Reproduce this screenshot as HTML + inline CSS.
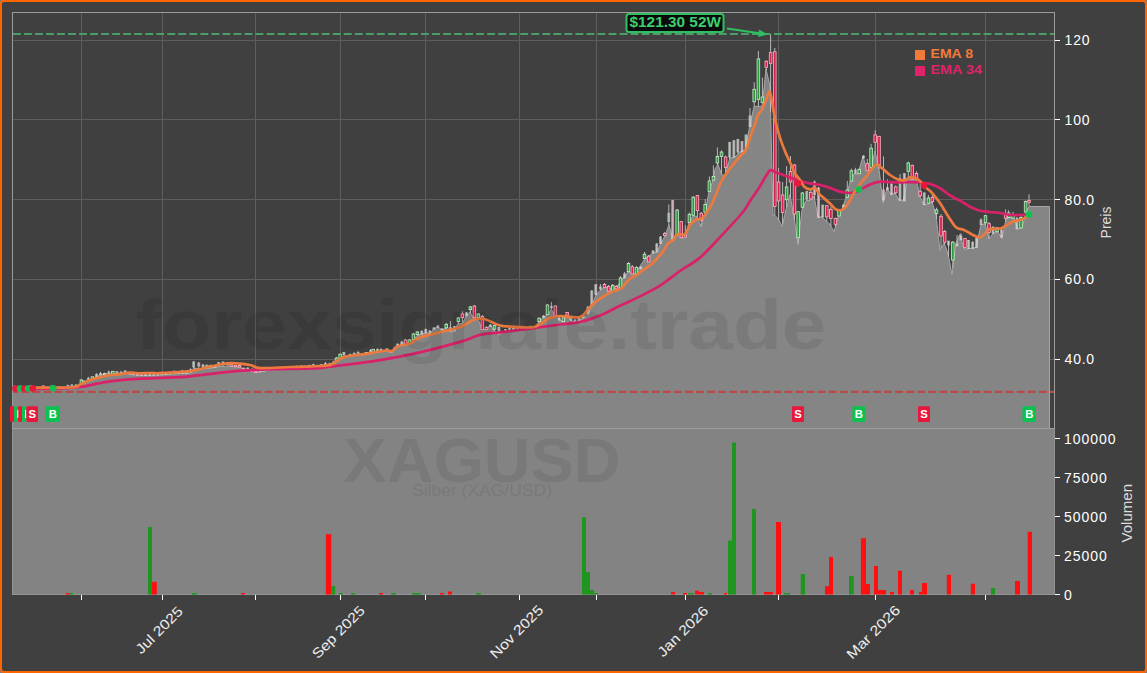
<!DOCTYPE html>
<html><head><meta charset="utf-8"><style>
html,body{margin:0;padding:0;background:#7f7f7f;}
#wrap{position:relative;width:1147px;height:673px;overflow:hidden;}
#frame{position:absolute;left:0;top:0;width:1143px;height:669px;border:2px solid #ff6600;border-radius:4px;background:#404040;}
</style></head><body><div id="wrap"><div id="frame"></div>
<svg width="1147" height="673" viewBox="0 0 1147 673" style="position:absolute;left:0;top:0;font-family:'Liberation Sans', sans-serif"><defs><clipPath id="mainclip"><rect x="12" y="12" width="1042" height="416"/></clipPath></defs><line x1="81.5" y1="12" x2="81.5" y2="428" stroke="#5e5e5e" stroke-width="1"/><line x1="162.5" y1="12" x2="162.5" y2="428" stroke="#5e5e5e" stroke-width="1"/><line x1="255.5" y1="12" x2="255.5" y2="428" stroke="#5e5e5e" stroke-width="1"/><line x1="340.5" y1="12" x2="340.5" y2="428" stroke="#5e5e5e" stroke-width="1"/><line x1="425.5" y1="12" x2="425.5" y2="428" stroke="#5e5e5e" stroke-width="1"/><line x1="519.5" y1="12" x2="519.5" y2="428" stroke="#5e5e5e" stroke-width="1"/><line x1="596.5" y1="12" x2="596.5" y2="428" stroke="#5e5e5e" stroke-width="1"/><line x1="685.5" y1="12" x2="685.5" y2="428" stroke="#5e5e5e" stroke-width="1"/><line x1="778.5" y1="12" x2="778.5" y2="428" stroke="#5e5e5e" stroke-width="1"/><line x1="875.5" y1="12" x2="875.5" y2="428" stroke="#5e5e5e" stroke-width="1"/><line x1="985.5" y1="12" x2="985.5" y2="428" stroke="#5e5e5e" stroke-width="1"/><line x1="12" y1="40.5" x2="1054" y2="40.5" stroke="#5e5e5e" stroke-width="1"/><line x1="12" y1="119.5" x2="1054" y2="119.5" stroke="#5e5e5e" stroke-width="1"/><line x1="12" y1="199.5" x2="1054" y2="199.5" stroke="#5e5e5e" stroke-width="1"/><line x1="12" y1="279.5" x2="1054" y2="279.5" stroke="#5e5e5e" stroke-width="1"/><line x1="12" y1="359.5" x2="1054" y2="359.5" stroke="#5e5e5e" stroke-width="1"/><g clip-path="url(#mainclip)"><polygon points="12.0,428.0 12.0,388.5 40.0,388.5 55.0,388.5 70.0,388.0 78.0,386.5 82.0,383.7 90.0,380.0 100.0,375.0 110.0,374.0 125.0,373.0 135.0,375.0 145.0,375.5 160.0,375.0 170.0,374.0 190.0,373.0 194.0,368.0 200.0,369.0 210.0,368.0 220.0,366.5 230.0,366.0 240.0,367.0 245.0,370.0 256.0,372.5 270.0,370.0 300.0,368.5 320.0,366.5 331.0,364.5 336.0,362.1 342.0,356.6 348.0,356.0 362.8,354.8 373.8,352.4 386.0,350.5 392.0,352.4 397.0,346.3 401.0,344.5 409.4,342.6 413.0,340.0 417.0,335.5 422.0,334.0 426.0,332.8 430.0,334.0 434.0,328.3 438.0,327.4 442.0,329.7 446.0,328.3 450.0,331.9 454.0,331.0 458.0,323.4 462.0,323.9 466.0,316.7 470.0,311.8 474.0,319.4 478.0,318.5 482.0,329.2 486.0,330.1 490.0,324.8 494.0,330.1 499.0,334.6 505.0,331.0 520.0,329.5 535.0,328.0 539.0,321.6 543.0,317.7 547.5,314.6 551.4,309.5 555.4,315.5 559.0,320.0 563.4,321.6 567.0,315.1 571.0,320.5 575.0,322.0 579.0,320.5 583.0,318.0 588.0,313.8 592.0,306.0 596.0,294.6 600.0,290.6 605.0,287.0 615.0,289.4 620.0,282.3 628.0,271.6 635.0,274.0 645.0,258.5 653.0,253.0 657.0,252.0 661.0,243.0 665.0,236.0 669.0,224.7 673.0,240.3 677.0,235.0 681.0,238.0 685.0,237.7 689.0,222.6 693.0,215.9 697.0,216.4 701.0,226.8 705.0,213.3 709.0,191.4 713.0,180.2 715.0,169.0 718.0,164.6 722.0,175.0 725.0,175.0 730.0,158.0 735.0,157.0 740.0,152.0 745.0,149.7 750.0,125.0 754.0,106.4 758.0,106.4 762.0,106.4 766.0,69.0 770.0,86.0 773.0,215.0 775.0,215.4 779.0,220.0 782.0,226.5 786.0,209.4 790.0,194.6 794.0,216.9 798.0,244.4 802.0,209.4 806.0,200.5 810.0,200.5 814.0,196.0 818.0,216.9 822.0,216.9 826.0,221.0 830.0,224.3 834.0,231.7 838.0,216.9 842.0,209.4 846.0,197.5 850.0,182.0 854.0,173.8 858.0,173.8 863.0,156.0 867.0,171.0 871.0,167.5 875.0,151.2 879.0,169.0 883.0,203.0 887.0,188.4 891.0,194.3 895.0,192.8 899.0,200.2 903.0,201.0 908.0,177.0 912.0,178.0 916.0,178.0 920.0,196.7 924.0,204.8 928.0,203.9 932.0,202.0 936.0,214.6 940.0,250.2 944.0,243.0 948.0,253.8 952.0,274.3 956.0,243.0 960.0,234.2 964.0,249.3 970.0,248.4 976.0,247.5 981.0,224.6 985.0,223.7 989.0,238.8 993.0,233.5 998.0,231.7 1002.0,238.8 1006.0,219.2 1010.0,217.4 1014.0,218.3 1018.0,229.0 1022.0,228.0 1026.0,212.0 1029.0,206.5 1049.5,206.5 1049.5,428.0" fill="#858585"/><polyline points="12.0,388.5 40.0,388.5 55.0,388.5 70.0,388.0 78.0,386.5 82.0,383.7 90.0,380.0 100.0,375.0 110.0,374.0 125.0,373.0 135.0,375.0 145.0,375.5 160.0,375.0 170.0,374.0 190.0,373.0 194.0,368.0 200.0,369.0 210.0,368.0 220.0,366.5 230.0,366.0 240.0,367.0 245.0,370.0 256.0,372.5 270.0,370.0 300.0,368.5 320.0,366.5 331.0,364.5 336.0,362.1 342.0,356.6 348.0,356.0 362.8,354.8 373.8,352.4 386.0,350.5 392.0,352.4 397.0,346.3 401.0,344.5 409.4,342.6 413.0,340.0 417.0,335.5 422.0,334.0 426.0,332.8 430.0,334.0 434.0,328.3 438.0,327.4 442.0,329.7 446.0,328.3 450.0,331.9 454.0,331.0 458.0,323.4 462.0,323.9 466.0,316.7 470.0,311.8 474.0,319.4 478.0,318.5 482.0,329.2 486.0,330.1 490.0,324.8 494.0,330.1 499.0,334.6 505.0,331.0 520.0,329.5 535.0,328.0 539.0,321.6 543.0,317.7 547.5,314.6 551.4,309.5 555.4,315.5 559.0,320.0 563.4,321.6 567.0,315.1 571.0,320.5 575.0,322.0 579.0,320.5 583.0,318.0 588.0,313.8 592.0,306.0 596.0,294.6 600.0,290.6 605.0,287.0 615.0,289.4 620.0,282.3 628.0,271.6 635.0,274.0 645.0,258.5 653.0,253.0 657.0,252.0 661.0,243.0 665.0,236.0 669.0,224.7 673.0,240.3 677.0,235.0 681.0,238.0 685.0,237.7 689.0,222.6 693.0,215.9 697.0,216.4 701.0,226.8 705.0,213.3 709.0,191.4 713.0,180.2 715.0,169.0 718.0,164.6 722.0,175.0 725.0,175.0 730.0,158.0 735.0,157.0 740.0,152.0 745.0,149.7 750.0,125.0 754.0,106.4 758.0,106.4 762.0,106.4 766.0,69.0 770.0,86.0 773.0,215.0 775.0,215.4 779.0,220.0 782.0,226.5 786.0,209.4 790.0,194.6 794.0,216.9 798.0,244.4 802.0,209.4 806.0,200.5 810.0,200.5 814.0,196.0 818.0,216.9 822.0,216.9 826.0,221.0 830.0,224.3 834.0,231.7 838.0,216.9 842.0,209.4 846.0,197.5 850.0,182.0 854.0,173.8 858.0,173.8 863.0,156.0 867.0,171.0 871.0,167.5 875.0,151.2 879.0,169.0 883.0,203.0 887.0,188.4 891.0,194.3 895.0,192.8 899.0,200.2 903.0,201.0 908.0,177.0 912.0,178.0 916.0,178.0 920.0,196.7 924.0,204.8 928.0,203.9 932.0,202.0 936.0,214.6 940.0,250.2 944.0,243.0 948.0,253.8 952.0,274.3 956.0,243.0 960.0,234.2 964.0,249.3 970.0,248.4 976.0,247.5 981.0,224.6 985.0,223.7 989.0,238.8 993.0,233.5 998.0,231.7 1002.0,238.8 1006.0,219.2 1010.0,217.4 1014.0,218.3 1018.0,229.0 1022.0,228.0 1026.0,212.0 1029.0,206.5 1049.5,206.5 1049.5,428" fill="none" stroke="#b0b0b0" stroke-width="1" opacity="0.85"/></g><line x1="81.4" y1="379.0" x2="81.4" y2="384.1" stroke="#c4c4c4" stroke-width="0.9"/><rect x="80.1" y="380.0" width="2.6" height="3.7" fill="#2a9a3c" stroke="#c8f0cc" stroke-width="0.8"/><line x1="193.7" y1="361.0" x2="193.7" y2="368.4" stroke="#c4c4c4" stroke-width="0.9"/><rect x="192.7" y="362.0" width="2.0" height="5.0" fill="#b8dcbc" stroke="#e4f6e6" stroke-width="0.8" opacity="0.6"/><line x1="198.8" y1="362.0" x2="198.8" y2="368.8" stroke="#c4c4c4" stroke-width="0.9"/><rect x="197.8" y="363.0" width="2.0" height="3.0" fill="#ecbccb" stroke="#fbe2ea" stroke-width="0.8" opacity="0.6"/><line x1="203.0" y1="364.0" x2="203.0" y2="368.7" stroke="#c4c4c4" stroke-width="0.9"/><rect x="202.0" y="365.0" width="2.0" height="2.0" fill="#d4d4d4" stroke="#ececec" stroke-width="0.8" opacity="0.6"/><line x1="218.5" y1="362.0" x2="218.5" y2="366.7" stroke="#c4c4c4" stroke-width="0.9"/><rect x="217.5" y="362.6" width="2.0" height="1.9" fill="#b8dcbc" stroke="#e4f6e6" stroke-width="0.8" opacity="0.6"/><line x1="223.0" y1="361.5" x2="223.0" y2="366.4" stroke="#c4c4c4" stroke-width="0.9"/><rect x="222.0" y="362.0" width="2.0" height="2.0" fill="#d4d4d4" stroke="#ececec" stroke-width="0.8" opacity="0.6"/><line x1="228.0" y1="362.0" x2="228.0" y2="366.1" stroke="#c4c4c4" stroke-width="0.9"/><rect x="227.0" y="362.5" width="2.0" height="2.0" fill="#d4d4d4" stroke="#ececec" stroke-width="0.8" opacity="0.6"/><line x1="336.5" y1="357.0" x2="336.5" y2="361.6" stroke="#c4c4c4" stroke-width="0.9"/><rect x="335.2" y="358.0" width="2.6" height="3.5" fill="#2a9a3c" stroke="#c8f0cc" stroke-width="0.8"/><line x1="340.2" y1="353.5" x2="340.2" y2="358.5" stroke="#c4c4c4" stroke-width="0.9"/><rect x="338.9" y="354.2" width="2.6" height="4.3" fill="#2a9a3c" stroke="#c8f0cc" stroke-width="0.8"/><line x1="343.9" y1="352.0" x2="343.9" y2="356.4" stroke="#c4c4c4" stroke-width="0.9"/><rect x="342.9" y="352.4" width="2.0" height="2.4" fill="#b8dcbc" stroke="#e4f6e6" stroke-width="0.8" opacity="0.6"/><line x1="373.2" y1="349.0" x2="373.2" y2="352.5" stroke="#c4c4c4" stroke-width="0.9"/><rect x="371.9" y="349.3" width="2.6" height="3.1" fill="#2a9a3c" stroke="#c8f0cc" stroke-width="0.8"/><line x1="377.4" y1="348.5" x2="377.4" y2="351.8" stroke="#c4c4c4" stroke-width="0.9"/><rect x="376.4" y="349.3" width="2.0" height="1.7" fill="#d4d4d4" stroke="#ececec" stroke-width="0.8" opacity="0.6"/><line x1="381.0" y1="348.5" x2="381.0" y2="351.3" stroke="#c4c4c4" stroke-width="0.9"/><rect x="380.0" y="349.3" width="2.0" height="1.7" fill="#d4d4d4" stroke="#ececec" stroke-width="0.8" opacity="0.6"/><line x1="397.6" y1="343.8" x2="397.6" y2="346.3" stroke="#c4c4c4" stroke-width="0.9"/><rect x="396.6" y="344.0" width="2.0" height="2.3" fill="#d4d4d4" stroke="#ececec" stroke-width="0.8" opacity="0.6"/><line x1="401.8" y1="341.0" x2="401.8" y2="344.3" stroke="#c4c4c4" stroke-width="0.9"/><rect x="400.8" y="342.0" width="2.0" height="2.0" fill="#d4d4d4" stroke="#ececec" stroke-width="0.8" opacity="0.6"/><line x1="405.5" y1="339.0" x2="405.5" y2="345.0" stroke="#c4c4c4" stroke-width="0.9"/><rect x="404.2" y="340.0" width="2.6" height="5.0" fill="#d8204e" stroke="#ffb4c4" stroke-width="0.8"/><line x1="409.4" y1="339.0" x2="409.4" y2="343.5" stroke="#c4c4c4" stroke-width="0.9"/><rect x="408.1" y="339.9" width="2.6" height="3.6" fill="#2a9a3c" stroke="#c8f0cc" stroke-width="0.8"/><line x1="413.4" y1="333.0" x2="413.4" y2="339.6" stroke="#c4c4c4" stroke-width="0.9"/><rect x="412.1" y="334.0" width="2.6" height="5.5" fill="#2a9a3c" stroke="#c8f0cc" stroke-width="0.8"/><line x1="417.4" y1="331.0" x2="417.4" y2="335.4" stroke="#c4c4c4" stroke-width="0.9"/><rect x="416.1" y="332.0" width="2.6" height="2.6" fill="#2a9a3c" stroke="#c8f0cc" stroke-width="0.8"/><line x1="421.8" y1="330.0" x2="421.8" y2="334.1" stroke="#c4c4c4" stroke-width="0.9"/><rect x="420.8" y="331.5" width="2.0" height="2.5" fill="#d4d4d4" stroke="#ececec" stroke-width="0.8" opacity="0.6"/><line x1="425.8" y1="328.5" x2="425.8" y2="332.9" stroke="#c4c4c4" stroke-width="0.9"/><rect x="424.8" y="329.5" width="2.0" height="3.3" fill="#d4d4d4" stroke="#ececec" stroke-width="0.8" opacity="0.6"/><line x1="429.9" y1="330.0" x2="429.9" y2="334.0" stroke="#c4c4c4" stroke-width="0.9"/><rect x="428.9" y="331.0" width="2.0" height="3.0" fill="#d4d4d4" stroke="#ececec" stroke-width="0.8" opacity="0.6"/><line x1="433.9" y1="327.0" x2="433.9" y2="329.0" stroke="#c4c4c4" stroke-width="0.9"/><rect x="432.9" y="328.0" width="2.0" height="1.2" fill="#d4d4d4" stroke="#ececec" stroke-width="0.8" opacity="0.6"/><line x1="437.9" y1="325.0" x2="437.9" y2="327.4" stroke="#c4c4c4" stroke-width="0.9"/><rect x="436.9" y="326.0" width="2.0" height="1.4" fill="#d4d4d4" stroke="#ececec" stroke-width="0.8" opacity="0.6"/><line x1="441.9" y1="328.0" x2="441.9" y2="330.0" stroke="#c4c4c4" stroke-width="0.9"/><rect x="440.9" y="329.0" width="2.0" height="1.2" fill="#d4d4d4" stroke="#ececec" stroke-width="0.8" opacity="0.6"/><line x1="446.3" y1="323.0" x2="446.3" y2="328.6" stroke="#c4c4c4" stroke-width="0.9"/><rect x="445.0" y="324.3" width="2.6" height="3.6" fill="#2a9a3c" stroke="#c8f0cc" stroke-width="0.8"/><line x1="450.4" y1="321.2" x2="450.4" y2="331.8" stroke="#c4c4c4" stroke-width="0.9"/><rect x="449.1" y="327.9" width="2.6" height="2.2" fill="#d8204e" stroke="#ffb4c4" stroke-width="0.8"/><line x1="454.4" y1="326.0" x2="454.4" y2="331.0" stroke="#c4c4c4" stroke-width="0.9"/><rect x="453.4" y="326.5" width="2.0" height="4.5" fill="#d4d4d4" stroke="#ececec" stroke-width="0.8" opacity="0.6"/><line x1="458.4" y1="317.0" x2="458.4" y2="323.4" stroke="#c4c4c4" stroke-width="0.9"/><rect x="457.1" y="318.0" width="2.6" height="3.6" fill="#2a9a3c" stroke="#c8f0cc" stroke-width="0.8"/><line x1="462.4" y1="311.4" x2="462.4" y2="323.2" stroke="#c4c4c4" stroke-width="0.9"/><rect x="461.1" y="314.0" width="2.6" height="3.6" fill="#d8204e" stroke="#ffb4c4" stroke-width="0.8"/><line x1="466.4" y1="312.0" x2="466.4" y2="316.2" stroke="#c4c4c4" stroke-width="0.9"/><rect x="465.4" y="313.0" width="2.0" height="3.0" fill="#d4d4d4" stroke="#ececec" stroke-width="0.8" opacity="0.6"/><line x1="470.4" y1="306.0" x2="470.4" y2="312.6" stroke="#c4c4c4" stroke-width="0.9"/><rect x="469.1" y="306.9" width="2.6" height="2.7" fill="#2a9a3c" stroke="#c8f0cc" stroke-width="0.8"/><line x1="474.4" y1="305.0" x2="474.4" y2="319.3" stroke="#c4c4c4" stroke-width="0.9"/><rect x="473.1" y="306.0" width="2.6" height="11.6" fill="#d8204e" stroke="#ffb4c4" stroke-width="0.8"/><line x1="478.4" y1="313.0" x2="478.4" y2="319.6" stroke="#c4c4c4" stroke-width="0.9"/><rect x="477.1" y="314.0" width="2.6" height="3.6" fill="#2a9a3c" stroke="#c8f0cc" stroke-width="0.8"/><line x1="482.4" y1="315.0" x2="482.4" y2="329.7" stroke="#c4c4c4" stroke-width="0.9"/><rect x="481.1" y="316.3" width="2.6" height="13.4" fill="#d8204e" stroke="#ffb4c4" stroke-width="0.8"/><line x1="486.5" y1="326.0" x2="486.5" y2="329.7" stroke="#c4c4c4" stroke-width="0.9"/><rect x="485.2" y="327.4" width="2.6" height="2.3" fill="#d8204e" stroke="#ffb4c4" stroke-width="0.8"/><line x1="490.5" y1="324.0" x2="490.5" y2="326.5" stroke="#c4c4c4" stroke-width="0.9"/><rect x="489.5" y="325.0" width="2.0" height="1.5" fill="#d4d4d4" stroke="#ececec" stroke-width="0.8" opacity="0.6"/><line x1="494.5" y1="325.0" x2="494.5" y2="330.6" stroke="#c4c4c4" stroke-width="0.9"/><rect x="493.2" y="325.6" width="2.6" height="3.6" fill="#2a9a3c" stroke="#c8f0cc" stroke-width="0.8"/><line x1="498.9" y1="327.0" x2="498.9" y2="334.5" stroke="#c4c4c4" stroke-width="0.9"/><rect x="497.9" y="327.5" width="2.0" height="6.5" fill="#ecbccb" stroke="#fbe2ea" stroke-width="0.8" opacity="0.6"/><line x1="539.2" y1="317.5" x2="539.2" y2="321.6" stroke="#c4c4c4" stroke-width="0.9"/><rect x="537.9" y="318.2" width="2.6" height="3.4" fill="#2a9a3c" stroke="#c8f0cc" stroke-width="0.8"/><line x1="543.6" y1="315.0" x2="543.6" y2="317.7" stroke="#c4c4c4" stroke-width="0.9"/><rect x="542.6" y="316.0" width="2.0" height="1.7" fill="#d4d4d4" stroke="#ececec" stroke-width="0.8" opacity="0.6"/><line x1="547.5" y1="304.0" x2="547.5" y2="314.6" stroke="#c4c4c4" stroke-width="0.9"/><rect x="546.2" y="305.0" width="2.6" height="9.6" fill="#2a9a3c" stroke="#c8f0cc" stroke-width="0.8"/><line x1="551.4" y1="302.0" x2="551.4" y2="309.5" stroke="#c4c4c4" stroke-width="0.9"/><rect x="550.4" y="306.3" width="2.0" height="1.5" fill="#d4d4d4" stroke="#ececec" stroke-width="0.8" opacity="0.6"/><line x1="555.4" y1="305.5" x2="555.4" y2="315.5" stroke="#c4c4c4" stroke-width="0.9"/><rect x="554.1" y="306.0" width="2.6" height="9.5" fill="#d8204e" stroke="#ffb4c4" stroke-width="0.8"/><line x1="559.3" y1="317.0" x2="559.3" y2="320.1" stroke="#c4c4c4" stroke-width="0.9"/><rect x="558.3" y="318.0" width="2.0" height="2.0" fill="#d4d4d4" stroke="#ececec" stroke-width="0.8" opacity="0.6"/><line x1="563.4" y1="316.7" x2="563.4" y2="321.6" stroke="#c4c4c4" stroke-width="0.9"/><rect x="562.1" y="317.7" width="2.6" height="3.9" fill="#2a9a3c" stroke="#c8f0cc" stroke-width="0.8"/><line x1="567.2" y1="312.0" x2="567.2" y2="315.4" stroke="#c4c4c4" stroke-width="0.9"/><rect x="565.9" y="312.5" width="2.6" height="2.6" fill="#d8204e" stroke="#ffb4c4" stroke-width="0.8"/><line x1="571.0" y1="318.0" x2="571.0" y2="320.5" stroke="#c4c4c4" stroke-width="0.9"/><rect x="570.0" y="318.5" width="2.0" height="2.0" fill="#d4d4d4" stroke="#ececec" stroke-width="0.8" opacity="0.6"/><line x1="575.0" y1="319.0" x2="575.0" y2="322.0" stroke="#c4c4c4" stroke-width="0.9"/><rect x="574.0" y="320.0" width="2.0" height="2.0" fill="#d4d4d4" stroke="#ececec" stroke-width="0.8" opacity="0.6"/><line x1="579.0" y1="318.0" x2="579.0" y2="320.5" stroke="#c4c4c4" stroke-width="0.9"/><rect x="578.0" y="318.5" width="2.0" height="2.0" fill="#d4d4d4" stroke="#ececec" stroke-width="0.8" opacity="0.6"/><line x1="583.0" y1="314.0" x2="583.0" y2="318.0" stroke="#c4c4c4" stroke-width="0.9"/><rect x="582.0" y="315.0" width="2.0" height="3.0" fill="#d4d4d4" stroke="#ececec" stroke-width="0.8" opacity="0.6"/><line x1="588.0" y1="306.8" x2="588.0" y2="313.8" stroke="#c4c4c4" stroke-width="0.9"/><rect x="587.0" y="306.8" width="2.0" height="7.0" fill="#d4d4d4" stroke="#ececec" stroke-width="0.8" opacity="0.6"/><line x1="591.8" y1="290.0" x2="591.8" y2="306.4" stroke="#c4c4c4" stroke-width="0.9"/><rect x="590.8" y="291.0" width="2.0" height="15.0" fill="#d4d4d4" stroke="#ececec" stroke-width="0.8" opacity="0.6"/><line x1="595.8" y1="284.0" x2="595.8" y2="295.2" stroke="#c4c4c4" stroke-width="0.9"/><rect x="594.8" y="284.8" width="2.0" height="9.8" fill="#d4d4d4" stroke="#ececec" stroke-width="0.8" opacity="0.6"/><line x1="600.4" y1="284.0" x2="600.4" y2="290.3" stroke="#c4c4c4" stroke-width="0.9"/><rect x="599.4" y="287.0" width="2.0" height="2.0" fill="#d4d4d4" stroke="#ececec" stroke-width="0.8" opacity="0.6"/><line x1="604.5" y1="283.0" x2="604.5" y2="287.7" stroke="#c4c4c4" stroke-width="0.9"/><rect x="603.2" y="284.4" width="2.6" height="3.3" fill="#d8204e" stroke="#ffb4c4" stroke-width="0.8"/><line x1="608.6" y1="285.0" x2="608.6" y2="291.3" stroke="#c4c4c4" stroke-width="0.9"/><rect x="607.3" y="286.4" width="2.6" height="4.9" fill="#d8204e" stroke="#ffb4c4" stroke-width="0.8"/><line x1="612.7" y1="284.0" x2="612.7" y2="291.3" stroke="#c4c4c4" stroke-width="0.9"/><rect x="611.4" y="285.3" width="2.6" height="6.0" fill="#2a9a3c" stroke="#c8f0cc" stroke-width="0.8"/><line x1="616.3" y1="285.0" x2="616.3" y2="288.9" stroke="#c4c4c4" stroke-width="0.9"/><rect x="615.0" y="286.4" width="2.6" height="2.5" fill="#d8204e" stroke="#ffb4c4" stroke-width="0.8"/><line x1="620.5" y1="276.0" x2="620.5" y2="288.0" stroke="#c4c4c4" stroke-width="0.9"/><rect x="619.2" y="278.0" width="2.6" height="10.0" fill="#2a9a3c" stroke="#c8f0cc" stroke-width="0.8"/><line x1="624.4" y1="272.0" x2="624.4" y2="278.0" stroke="#c4c4c4" stroke-width="0.9"/><rect x="623.4" y="274.0" width="2.0" height="4.0" fill="#d4d4d4" stroke="#ececec" stroke-width="0.8" opacity="0.6"/><line x1="628.5" y1="262.0" x2="628.5" y2="271.8" stroke="#c4c4c4" stroke-width="0.9"/><rect x="627.2" y="263.5" width="2.6" height="8.2" fill="#2a9a3c" stroke="#c8f0cc" stroke-width="0.8"/><line x1="632.3" y1="265.0" x2="632.3" y2="274.0" stroke="#c4c4c4" stroke-width="0.9"/><rect x="631.0" y="266.8" width="2.6" height="7.2" fill="#d8204e" stroke="#ffb4c4" stroke-width="0.8"/><line x1="636.4" y1="266.0" x2="636.4" y2="274.0" stroke="#c4c4c4" stroke-width="0.9"/><rect x="635.1" y="267.6" width="2.6" height="6.4" fill="#2a9a3c" stroke="#c8f0cc" stroke-width="0.8"/><line x1="640.8" y1="266.0" x2="640.8" y2="269.0" stroke="#c4c4c4" stroke-width="0.9"/><rect x="639.8" y="267.5" width="2.0" height="1.5" fill="#d4d4d4" stroke="#ececec" stroke-width="0.8" opacity="0.6"/><line x1="644.5" y1="252.0" x2="644.5" y2="259.3" stroke="#c4c4c4" stroke-width="0.9"/><rect x="643.2" y="254.2" width="2.6" height="4.4" fill="#2a9a3c" stroke="#c8f0cc" stroke-width="0.8"/><line x1="648.6" y1="255.0" x2="648.6" y2="261.9" stroke="#c4c4c4" stroke-width="0.9"/><rect x="647.3" y="256.2" width="2.6" height="5.7" fill="#d8204e" stroke="#ffb4c4" stroke-width="0.8"/><line x1="653.0" y1="250.0" x2="653.0" y2="253.0" stroke="#c4c4c4" stroke-width="0.9"/><rect x="652.0" y="251.0" width="2.0" height="2.0" fill="#d4d4d4" stroke="#ececec" stroke-width="0.8" opacity="0.6"/><line x1="656.8" y1="243.0" x2="656.8" y2="252.1" stroke="#c4c4c4" stroke-width="0.9"/><rect x="655.8" y="244.0" width="2.0" height="8.0" fill="#d4d4d4" stroke="#ececec" stroke-width="0.8" opacity="0.6"/><line x1="660.5" y1="236.0" x2="660.5" y2="244.1" stroke="#c4c4c4" stroke-width="0.9"/><rect x="659.5" y="237.0" width="2.0" height="6.4" fill="#d4d4d4" stroke="#ececec" stroke-width="0.8" opacity="0.6"/><line x1="664.7" y1="232.0" x2="664.7" y2="236.5" stroke="#c4c4c4" stroke-width="0.9"/><rect x="663.4" y="233.5" width="2.6" height="2.1" fill="#d8204e" stroke="#ffb4c4" stroke-width="0.8"/><line x1="668.8" y1="204.4" x2="668.8" y2="225.3" stroke="#c4c4c4" stroke-width="0.9"/><rect x="667.8" y="213.3" width="2.0" height="8.3" fill="#b8dcbc" stroke="#e4f6e6" stroke-width="0.8" opacity="0.6"/><line x1="672.7" y1="200.3" x2="672.7" y2="240.3" stroke="#c4c4c4" stroke-width="0.9"/><rect x="671.7" y="200.3" width="2.0" height="40.0" fill="#ecbccb" stroke="#fbe2ea" stroke-width="0.8" opacity="0.6"/><line x1="677.2" y1="209.0" x2="677.2" y2="235.2" stroke="#c4c4c4" stroke-width="0.9"/><rect x="675.9" y="210.0" width="2.6" height="25.0" fill="#2a9a3c" stroke="#c8f0cc" stroke-width="0.8"/><line x1="681.3" y1="221.0" x2="681.3" y2="238.0" stroke="#c4c4c4" stroke-width="0.9"/><rect x="680.0" y="221.6" width="2.6" height="16.1" fill="#d8204e" stroke="#ffb4c4" stroke-width="0.8"/><line x1="685.3" y1="225.2" x2="685.3" y2="237.0" stroke="#c4c4c4" stroke-width="0.9"/><rect x="684.0" y="235.0" width="2.6" height="2.0" fill="#d8204e" stroke="#ffb4c4" stroke-width="0.8"/><line x1="689.4" y1="212.7" x2="689.4" y2="222.6" stroke="#c4c4c4" stroke-width="0.9"/><rect x="688.1" y="214.3" width="2.6" height="8.3" fill="#2a9a3c" stroke="#c8f0cc" stroke-width="0.8"/><line x1="693.3" y1="196.0" x2="693.3" y2="215.9" stroke="#c4c4c4" stroke-width="0.9"/><rect x="692.0" y="197.2" width="2.6" height="18.1" fill="#2a9a3c" stroke="#c8f0cc" stroke-width="0.8"/><line x1="697.4" y1="195.0" x2="697.4" y2="217.4" stroke="#c4c4c4" stroke-width="0.9"/><rect x="696.1" y="195.6" width="2.6" height="15.1" fill="#d8204e" stroke="#ffb4c4" stroke-width="0.8"/><line x1="701.3" y1="212.0" x2="701.3" y2="225.8" stroke="#c4c4c4" stroke-width="0.9"/><rect x="700.0" y="213.3" width="2.6" height="7.2" fill="#d8204e" stroke="#ffb4c4" stroke-width="0.8"/><line x1="705.2" y1="199.2" x2="705.2" y2="212.2" stroke="#c4c4c4" stroke-width="0.9"/><rect x="703.9" y="204.4" width="2.6" height="7.8" fill="#2a9a3c" stroke="#c8f0cc" stroke-width="0.8"/><line x1="709.4" y1="176.5" x2="709.4" y2="191.4" stroke="#c4c4c4" stroke-width="0.9"/><rect x="708.1" y="181.0" width="2.6" height="10.4" fill="#2a9a3c" stroke="#c8f0cc" stroke-width="0.8"/><line x1="713.4" y1="165.3" x2="713.4" y2="180.2" stroke="#c4c4c4" stroke-width="0.9"/><rect x="712.1" y="176.5" width="2.6" height="3.7" fill="#2a9a3c" stroke="#c8f0cc" stroke-width="0.8"/><line x1="717.4" y1="147.5" x2="717.4" y2="165.5" stroke="#c4c4c4" stroke-width="0.9"/><rect x="716.1" y="156.4" width="2.6" height="6.6" fill="#2a9a3c" stroke="#c8f0cc" stroke-width="0.8"/><line x1="721.5" y1="150.5" x2="721.5" y2="173.7" stroke="#c4c4c4" stroke-width="0.9"/><rect x="720.2" y="152.0" width="2.6" height="4.4" fill="#2a9a3c" stroke="#c8f0cc" stroke-width="0.8"/><line x1="725.6" y1="155.7" x2="725.6" y2="173.0" stroke="#c4c4c4" stroke-width="0.9"/><rect x="724.3" y="157.0" width="2.6" height="10.5" fill="#d8204e" stroke="#ffb4c4" stroke-width="0.8"/><line x1="729.7" y1="142.3" x2="729.7" y2="159.0" stroke="#c4c4c4" stroke-width="0.9"/><rect x="728.7" y="142.3" width="2.0" height="14.7" fill="#b8dcbc" stroke="#e4f6e6" stroke-width="0.8" opacity="0.6"/><line x1="733.9" y1="140.0" x2="733.9" y2="157.2" stroke="#c4c4c4" stroke-width="0.9"/><rect x="732.9" y="140.8" width="2.0" height="16.2" fill="#d4d4d4" stroke="#ececec" stroke-width="0.8" opacity="0.6"/><line x1="737.9" y1="139.3" x2="737.9" y2="154.1" stroke="#c4c4c4" stroke-width="0.9"/><rect x="736.9" y="139.3" width="2.0" height="12.7" fill="#d4d4d4" stroke="#ececec" stroke-width="0.8" opacity="0.6"/><line x1="742.0" y1="141.5" x2="742.0" y2="152.0" stroke="#c4c4c4" stroke-width="0.9"/><rect x="741.0" y="141.5" width="2.0" height="10.5" fill="#ecbccb" stroke="#fbe2ea" stroke-width="0.8" opacity="0.6"/><line x1="746.0" y1="134.9" x2="746.0" y2="148.0" stroke="#c4c4c4" stroke-width="0.9"/><rect x="745.0" y="134.9" width="2.0" height="13.1" fill="#b8dcbc" stroke="#e4f6e6" stroke-width="0.8" opacity="0.6"/><line x1="750.0" y1="108.0" x2="750.0" y2="126.7" stroke="#c4c4c4" stroke-width="0.9"/><rect x="749.0" y="115.8" width="2.0" height="10.9" fill="#d4d4d4" stroke="#ececec" stroke-width="0.8" opacity="0.6"/><line x1="754.2" y1="82.3" x2="754.2" y2="106.4" stroke="#c4c4c4" stroke-width="0.9"/><rect x="752.9" y="89.3" width="2.6" height="12.5" fill="#2a9a3c" stroke="#c8f0cc" stroke-width="0.8"/><line x1="758.4" y1="51.0" x2="758.4" y2="106.4" stroke="#c4c4c4" stroke-width="0.9"/><rect x="757.1" y="58.9" width="2.6" height="40.5" fill="#2a9a3c" stroke="#c8f0cc" stroke-width="0.8"/><line x1="762.4" y1="77.6" x2="762.4" y2="102.7" stroke="#c4c4c4" stroke-width="0.9"/><rect x="761.1" y="97.0" width="2.6" height="5.5" fill="#2a9a3c" stroke="#c8f0cc" stroke-width="0.8"/><line x1="766.3" y1="60.4" x2="766.3" y2="70.3" stroke="#c4c4c4" stroke-width="0.9"/><rect x="765.0" y="61.2" width="2.6" height="6.2" fill="#d8204e" stroke="#ffb4c4" stroke-width="0.8"/><line x1="770.6" y1="34.0" x2="770.6" y2="111.8" stroke="#c4c4c4" stroke-width="0.9"/><rect x="769.3" y="52.6" width="2.6" height="10.9" fill="#d8204e" stroke="#ffb4c4" stroke-width="0.8"/><line x1="774.8" y1="48.0" x2="774.8" y2="215.4" stroke="#c4c4c4" stroke-width="0.9"/><rect x="773.5" y="51.8" width="2.6" height="154.7" fill="#d8204e" stroke="#ffb4c4" stroke-width="0.8"/><line x1="778.6" y1="167.8" x2="778.6" y2="219.5" stroke="#c4c4c4" stroke-width="0.9"/><rect x="777.3" y="182.0" width="2.6" height="19.0" fill="#d8204e" stroke="#ffb4c4" stroke-width="0.8"/><line x1="782.6" y1="182.0" x2="782.6" y2="223.9" stroke="#c4c4c4" stroke-width="0.9"/><rect x="781.3" y="195.0" width="2.6" height="17.4" fill="#d8204e" stroke="#ffb4c4" stroke-width="0.8"/><line x1="786.6" y1="166.0" x2="786.6" y2="207.2" stroke="#c4c4c4" stroke-width="0.9"/><rect x="785.3" y="187.0" width="2.6" height="12.8" fill="#2a9a3c" stroke="#c8f0cc" stroke-width="0.8"/><line x1="790.5" y1="156.0" x2="790.5" y2="197.4" stroke="#c4c4c4" stroke-width="0.9"/><rect x="789.2" y="171.5" width="2.6" height="10.5" fill="#d8204e" stroke="#ffb4c4" stroke-width="0.8"/><line x1="794.5" y1="164.0" x2="794.5" y2="220.3" stroke="#c4c4c4" stroke-width="0.9"/><rect x="793.2" y="164.9" width="2.6" height="49.1" fill="#d8204e" stroke="#ffb4c4" stroke-width="0.8"/><line x1="798.2" y1="211.0" x2="798.2" y2="242.6" stroke="#c4c4c4" stroke-width="0.9"/><rect x="796.9" y="211.7" width="2.6" height="26.0" fill="#2a9a3c" stroke="#c8f0cc" stroke-width="0.8"/><line x1="802.4" y1="192.0" x2="802.4" y2="208.5" stroke="#c4c4c4" stroke-width="0.9"/><rect x="801.1" y="193.0" width="2.6" height="14.2" fill="#2a9a3c" stroke="#c8f0cc" stroke-width="0.8"/><line x1="806.8" y1="190.8" x2="806.8" y2="200.5" stroke="#c4c4c4" stroke-width="0.9"/><rect x="805.8" y="191.6" width="2.0" height="7.4" fill="#b8dcbc" stroke="#e4f6e6" stroke-width="0.8" opacity="0.6"/><line x1="810.9" y1="190.0" x2="810.9" y2="199.5" stroke="#c4c4c4" stroke-width="0.9"/><rect x="809.6" y="192.3" width="2.6" height="6.7" fill="#d8204e" stroke="#ffb4c4" stroke-width="0.8"/><line x1="814.6" y1="180.5" x2="814.6" y2="199.1" stroke="#c4c4c4" stroke-width="0.9"/><rect x="813.6" y="182.0" width="2.0" height="12.6" fill="#ecbccb" stroke="#fbe2ea" stroke-width="0.8" opacity="0.6"/><line x1="818.6" y1="187.0" x2="818.6" y2="217.6" stroke="#c4c4c4" stroke-width="0.9"/><rect x="817.6" y="187.9" width="2.0" height="29.7" fill="#ecbccb" stroke="#fbe2ea" stroke-width="0.8" opacity="0.6"/><line x1="822.7" y1="205.0" x2="822.7" y2="217.6" stroke="#c4c4c4" stroke-width="0.9"/><rect x="821.7" y="205.0" width="2.0" height="11.9" fill="#b8dcbc" stroke="#e4f6e6" stroke-width="0.8" opacity="0.6"/><line x1="826.8" y1="205.0" x2="826.8" y2="221.7" stroke="#c4c4c4" stroke-width="0.9"/><rect x="825.5" y="205.7" width="2.6" height="11.2" fill="#d8204e" stroke="#ffb4c4" stroke-width="0.8"/><line x1="830.9" y1="206.5" x2="830.9" y2="226.0" stroke="#c4c4c4" stroke-width="0.9"/><rect x="829.6" y="209.4" width="2.6" height="9.0" fill="#d8204e" stroke="#ffb4c4" stroke-width="0.8"/><line x1="835.4" y1="217.6" x2="835.4" y2="226.5" stroke="#c4c4c4" stroke-width="0.9"/><rect x="834.1" y="218.4" width="2.6" height="5.9" fill="#d8204e" stroke="#ffb4c4" stroke-width="0.8"/><line x1="839.0" y1="209.4" x2="839.0" y2="216.0" stroke="#c4c4c4" stroke-width="0.9"/><rect x="837.7" y="210.2" width="2.6" height="5.8" fill="#2a9a3c" stroke="#c8f0cc" stroke-width="0.8"/><line x1="843.5" y1="205.0" x2="843.5" y2="207.0" stroke="#c4c4c4" stroke-width="0.9"/><rect x="842.5" y="205.0" width="2.0" height="2.0" fill="#d4d4d4" stroke="#ececec" stroke-width="0.8" opacity="0.6"/><line x1="847.3" y1="181.0" x2="847.3" y2="197.5" stroke="#c4c4c4" stroke-width="0.9"/><rect x="846.0" y="190.0" width="2.6" height="7.5" fill="#2a9a3c" stroke="#c8f0cc" stroke-width="0.8"/><line x1="851.4" y1="168.6" x2="851.4" y2="181.2" stroke="#c4c4c4" stroke-width="0.9"/><rect x="850.1" y="170.8" width="2.6" height="10.4" fill="#2a9a3c" stroke="#c8f0cc" stroke-width="0.8"/><line x1="855.4" y1="167.8" x2="855.4" y2="173.8" stroke="#c4c4c4" stroke-width="0.9"/><rect x="854.4" y="170.0" width="2.0" height="3.0" fill="#d4d4d4" stroke="#ececec" stroke-width="0.8" opacity="0.6"/><line x1="859.2" y1="168.6" x2="859.2" y2="173.8" stroke="#c4c4c4" stroke-width="0.9"/><rect x="857.9" y="169.3" width="2.6" height="4.5" fill="#2a9a3c" stroke="#c8f0cc" stroke-width="0.8"/><line x1="863.6" y1="155.2" x2="863.6" y2="158.3" stroke="#c4c4c4" stroke-width="0.9"/><rect x="862.6" y="156.0" width="2.0" height="2.0" fill="#d4d4d4" stroke="#ececec" stroke-width="0.8" opacity="0.6"/><line x1="867.3" y1="159.0" x2="867.3" y2="170.8" stroke="#c4c4c4" stroke-width="0.9"/><rect x="866.0" y="163.4" width="2.6" height="7.4" fill="#d8204e" stroke="#ffb4c4" stroke-width="0.8"/><line x1="871.1" y1="143.8" x2="871.1" y2="167.5" stroke="#c4c4c4" stroke-width="0.9"/><rect x="869.8" y="148.2" width="2.6" height="19.3" fill="#2a9a3c" stroke="#c8f0cc" stroke-width="0.8"/><line x1="875.2" y1="130.4" x2="875.2" y2="152.1" stroke="#c4c4c4" stroke-width="0.9"/><rect x="873.9" y="134.9" width="2.6" height="7.4" fill="#d8204e" stroke="#ffb4c4" stroke-width="0.8"/><line x1="879.0" y1="136.0" x2="879.0" y2="169.0" stroke="#c4c4c4" stroke-width="0.9"/><rect x="877.7" y="136.3" width="2.6" height="28.3" fill="#d8204e" stroke="#ffb4c4" stroke-width="0.8"/><line x1="883.5" y1="156.4" x2="883.5" y2="201.2" stroke="#c4c4c4" stroke-width="0.9"/><rect x="882.5" y="190.0" width="2.0" height="10.0" fill="#ecbccb" stroke="#fbe2ea" stroke-width="0.8" opacity="0.6"/><line x1="887.5" y1="179.4" x2="887.5" y2="189.8" stroke="#c4c4c4" stroke-width="0.9"/><rect x="886.5" y="187.6" width="2.0" height="2.2" fill="#ecbccb" stroke="#fbe2ea" stroke-width="0.8" opacity="0.6"/><line x1="891.5" y1="182.4" x2="891.5" y2="194.3" stroke="#c4c4c4" stroke-width="0.9"/><rect x="890.5" y="184.0" width="2.0" height="10.3" fill="#ecbccb" stroke="#fbe2ea" stroke-width="0.8" opacity="0.6"/><line x1="895.7" y1="185.4" x2="895.7" y2="194.1" stroke="#c4c4c4" stroke-width="0.9"/><rect x="894.4" y="186.9" width="2.6" height="5.9" fill="#d8204e" stroke="#ffb4c4" stroke-width="0.8"/><line x1="900.0" y1="174.2" x2="900.0" y2="200.4" stroke="#c4c4c4" stroke-width="0.9"/><rect x="899.0" y="178.7" width="2.0" height="21.5" fill="#d4d4d4" stroke="#ececec" stroke-width="0.8" opacity="0.6"/><line x1="904.3" y1="173.5" x2="904.3" y2="201.0" stroke="#c4c4c4" stroke-width="0.9"/><rect x="903.3" y="173.5" width="2.0" height="27.5" fill="#d4d4d4" stroke="#ececec" stroke-width="0.8" opacity="0.6"/><line x1="908.3" y1="161.6" x2="908.3" y2="177.1" stroke="#c4c4c4" stroke-width="0.9"/><rect x="907.0" y="163.0" width="2.6" height="8.3" fill="#2a9a3c" stroke="#c8f0cc" stroke-width="0.8"/><line x1="912.3" y1="164.6" x2="912.3" y2="179.4" stroke="#c4c4c4" stroke-width="0.9"/><rect x="911.0" y="165.3" width="2.6" height="14.1" fill="#d8204e" stroke="#ffb4c4" stroke-width="0.8"/><line x1="916.5" y1="171.3" x2="916.5" y2="180.3" stroke="#c4c4c4" stroke-width="0.9"/><rect x="915.2" y="173.5" width="2.6" height="5.9" fill="#d8204e" stroke="#ffb4c4" stroke-width="0.8"/><line x1="920.2" y1="184.0" x2="920.2" y2="197.1" stroke="#c4c4c4" stroke-width="0.9"/><rect x="918.9" y="191.3" width="2.6" height="4.5" fill="#d8204e" stroke="#ffb4c4" stroke-width="0.8"/><line x1="924.2" y1="192.8" x2="924.2" y2="204.8" stroke="#c4c4c4" stroke-width="0.9"/><rect x="923.2" y="192.8" width="2.0" height="11.9" fill="#d4d4d4" stroke="#ececec" stroke-width="0.8" opacity="0.6"/><line x1="928.4" y1="195.0" x2="928.4" y2="203.7" stroke="#c4c4c4" stroke-width="0.9"/><rect x="927.1" y="198.0" width="2.6" height="5.2" fill="#2a9a3c" stroke="#c8f0cc" stroke-width="0.8"/><line x1="932.4" y1="192.8" x2="932.4" y2="203.3" stroke="#c4c4c4" stroke-width="0.9"/><rect x="931.1" y="197.3" width="2.6" height="4.4" fill="#d8204e" stroke="#ffb4c4" stroke-width="0.8"/><line x1="936.5" y1="207.7" x2="936.5" y2="219.0" stroke="#c4c4c4" stroke-width="0.9"/><rect x="935.2" y="209.9" width="2.6" height="3.7" fill="#2a9a3c" stroke="#c8f0cc" stroke-width="0.8"/><line x1="941.0" y1="214.0" x2="941.0" y2="248.4" stroke="#c4c4c4" stroke-width="0.9"/><rect x="939.7" y="216.3" width="2.6" height="19.7" fill="#d8204e" stroke="#ffb4c4" stroke-width="0.8"/><line x1="944.6" y1="230.0" x2="944.6" y2="244.6" stroke="#c4c4c4" stroke-width="0.9"/><rect x="943.3" y="231.5" width="2.6" height="10.7" fill="#d8204e" stroke="#ffb4c4" stroke-width="0.8"/><line x1="948.5" y1="241.3" x2="948.5" y2="256.4" stroke="#c4c4c4" stroke-width="0.9"/><rect x="947.5" y="241.0" width="2.0" height="4.0" fill="#d4d4d4" stroke="#ececec" stroke-width="0.8" opacity="0.6"/><line x1="952.8" y1="241.0" x2="952.8" y2="268.0" stroke="#c4c4c4" stroke-width="0.9"/><rect x="951.5" y="242.2" width="2.6" height="17.8" fill="#2a9a3c" stroke="#c8f0cc" stroke-width="0.8"/><line x1="957.0" y1="235.0" x2="957.0" y2="246.0" stroke="#c4c4c4" stroke-width="0.9"/><rect x="956.0" y="244.0" width="2.0" height="2.0" fill="#d4d4d4" stroke="#ececec" stroke-width="0.8" opacity="0.6"/><line x1="961.0" y1="233.3" x2="961.0" y2="240.0" stroke="#c4c4c4" stroke-width="0.9"/><rect x="960.0" y="236.0" width="2.0" height="4.0" fill="#d4d4d4" stroke="#ececec" stroke-width="0.8" opacity="0.6"/><line x1="965.0" y1="238.0" x2="965.0" y2="249.2" stroke="#c4c4c4" stroke-width="0.9"/><rect x="963.7" y="238.6" width="2.6" height="8.9" fill="#d8204e" stroke="#ffb4c4" stroke-width="0.8"/><line x1="968.6" y1="240.0" x2="968.6" y2="248.6" stroke="#c4c4c4" stroke-width="0.9"/><rect x="967.6" y="240.4" width="2.0" height="8.2" fill="#b8dcbc" stroke="#e4f6e6" stroke-width="0.8" opacity="0.6"/><line x1="972.7" y1="241.0" x2="972.7" y2="248.4" stroke="#c4c4c4" stroke-width="0.9"/><rect x="971.7" y="242.4" width="2.0" height="6.0" fill="#d4d4d4" stroke="#ececec" stroke-width="0.8" opacity="0.6"/><line x1="976.6" y1="237.7" x2="976.6" y2="247.5" stroke="#c4c4c4" stroke-width="0.9"/><rect x="975.6" y="238.0" width="2.0" height="9.5" fill="#d4d4d4" stroke="#ececec" stroke-width="0.8" opacity="0.6"/><line x1="981.0" y1="218.3" x2="981.0" y2="224.6" stroke="#c4c4c4" stroke-width="0.9"/><rect x="980.0" y="220.0" width="2.0" height="4.6" fill="#d4d4d4" stroke="#ececec" stroke-width="0.8" opacity="0.6"/><line x1="985.5" y1="215.0" x2="985.5" y2="225.6" stroke="#c4c4c4" stroke-width="0.9"/><rect x="984.2" y="215.7" width="2.6" height="7.1" fill="#2a9a3c" stroke="#c8f0cc" stroke-width="0.8"/><line x1="989.0" y1="222.0" x2="989.0" y2="238.8" stroke="#c4c4c4" stroke-width="0.9"/><rect x="987.7" y="223.7" width="2.6" height="8.9" fill="#d8204e" stroke="#ffb4c4" stroke-width="0.8"/><line x1="993.0" y1="226.0" x2="993.0" y2="233.5" stroke="#c4c4c4" stroke-width="0.9"/><rect x="992.0" y="227.2" width="2.0" height="6.3" fill="#d4d4d4" stroke="#ececec" stroke-width="0.8" opacity="0.6"/><line x1="997.0" y1="227.0" x2="997.0" y2="232.1" stroke="#c4c4c4" stroke-width="0.9"/><rect x="995.7" y="228.0" width="2.6" height="3.7" fill="#2a9a3c" stroke="#c8f0cc" stroke-width="0.8"/><line x1="1001.5" y1="229.0" x2="1001.5" y2="237.9" stroke="#c4c4c4" stroke-width="0.9"/><rect x="1000.5" y="230.0" width="2.0" height="7.0" fill="#ecbccb" stroke="#fbe2ea" stroke-width="0.8" opacity="0.6"/><line x1="1005.6" y1="209.4" x2="1005.6" y2="221.2" stroke="#c4c4c4" stroke-width="0.9"/><rect x="1004.3" y="214.8" width="2.6" height="3.5" fill="#d8204e" stroke="#ffb4c4" stroke-width="0.8"/><line x1="1008.6" y1="210.3" x2="1008.6" y2="218.0" stroke="#c4c4c4" stroke-width="0.9"/><rect x="1007.3" y="213.0" width="2.6" height="4.4" fill="#2a9a3c" stroke="#c8f0cc" stroke-width="0.8"/><line x1="1013.0" y1="212.0" x2="1013.0" y2="218.3" stroke="#c4c4c4" stroke-width="0.9"/><rect x="1011.7" y="214.8" width="2.6" height="3.5" fill="#2a9a3c" stroke="#c8f0cc" stroke-width="0.8"/><line x1="1017.0" y1="217.0" x2="1017.0" y2="229.0" stroke="#c4c4c4" stroke-width="0.9"/><rect x="1016.0" y="218.3" width="2.0" height="10.7" fill="#b8dcbc" stroke="#e4f6e6" stroke-width="0.8" opacity="0.6"/><line x1="1021.0" y1="216.0" x2="1021.0" y2="228.2" stroke="#c4c4c4" stroke-width="0.9"/><rect x="1019.7" y="217.4" width="2.6" height="10.6" fill="#2a9a3c" stroke="#c8f0cc" stroke-width="0.8"/><line x1="1025.6" y1="200.5" x2="1025.6" y2="213.6" stroke="#c4c4c4" stroke-width="0.9"/><rect x="1024.3" y="201.4" width="2.6" height="10.6" fill="#2a9a3c" stroke="#c8f0cc" stroke-width="0.8"/><line x1="1029.0" y1="194.3" x2="1029.0" y2="206.5" stroke="#c4c4c4" stroke-width="0.9"/><rect x="1027.7" y="200.5" width="2.6" height="1.8" fill="#d8204e" stroke="#ffb4c4" stroke-width="0.8"/><line x1="14.7" y1="385.0" x2="14.7" y2="388.5" stroke="#c4c4c4" stroke-width="0.9"/><rect x="13.7" y="386.5" width="2.0" height="2.0" fill="#ecbccb" stroke="#fbe2ea" stroke-width="0.8" opacity="0.6"/><line x1="18.8" y1="387.5" x2="18.8" y2="388.5" stroke="#c4c4c4" stroke-width="0.9"/><rect x="17.5" y="387.5" width="2.6" height="1.2" fill="#d8204e" stroke="#ffb4c4" stroke-width="0.8"/><line x1="22.9" y1="386.0" x2="22.9" y2="388.5" stroke="#c4c4c4" stroke-width="0.9"/><rect x="21.6" y="386.5" width="2.6" height="2.0" fill="#d8204e" stroke="#ffb4c4" stroke-width="0.8"/><line x1="27.0" y1="386.0" x2="27.0" y2="388.5" stroke="#c4c4c4" stroke-width="0.9"/><rect x="25.7" y="387.5" width="2.6" height="1.2" fill="#d8204e" stroke="#ffb4c4" stroke-width="0.8"/><line x1="31.0" y1="385.5" x2="31.0" y2="388.5" stroke="#c4c4c4" stroke-width="0.9"/><rect x="29.7" y="386.0" width="2.6" height="2.5" fill="#d8204e" stroke="#ffb4c4" stroke-width="0.8"/><line x1="35.1" y1="387.5" x2="35.1" y2="388.5" stroke="#c4c4c4" stroke-width="0.9"/><rect x="34.1" y="387.5" width="2.0" height="1.2" fill="#d4d4d4" stroke="#ececec" stroke-width="0.8" opacity="0.6"/><line x1="39.2" y1="387.5" x2="39.2" y2="388.5" stroke="#c4c4c4" stroke-width="0.9"/><rect x="38.2" y="387.5" width="2.0" height="1.2" fill="#ecbccb" stroke="#fbe2ea" stroke-width="0.8" opacity="0.6"/><line x1="43.3" y1="385.5" x2="43.3" y2="388.5" stroke="#c4c4c4" stroke-width="0.9"/><rect x="42.0" y="386.0" width="2.6" height="2.5" fill="#d8204e" stroke="#ffb4c4" stroke-width="0.8"/><line x1="47.4" y1="386.5" x2="47.4" y2="388.5" stroke="#c4c4c4" stroke-width="0.9"/><rect x="46.4" y="387.5" width="2.0" height="1.2" fill="#ecbccb" stroke="#fbe2ea" stroke-width="0.8" opacity="0.6"/><line x1="51.5" y1="386.0" x2="51.5" y2="388.5" stroke="#c4c4c4" stroke-width="0.9"/><rect x="50.5" y="386.0" width="2.0" height="2.5" fill="#ecbccb" stroke="#fbe2ea" stroke-width="0.8" opacity="0.6"/><line x1="55.6" y1="386.5" x2="55.6" y2="388.5" stroke="#c4c4c4" stroke-width="0.9"/><rect x="54.6" y="386.5" width="2.0" height="2.0" fill="#b8dcbc" stroke="#e4f6e6" stroke-width="0.8" opacity="0.6"/><line x1="59.7" y1="386.8" x2="59.7" y2="388.3" stroke="#c4c4c4" stroke-width="0.9"/><rect x="58.7" y="386.8" width="2.0" height="1.5" fill="#b8dcbc" stroke="#e4f6e6" stroke-width="0.8" opacity="0.6"/><line x1="63.8" y1="386.7" x2="63.8" y2="388.2" stroke="#c4c4c4" stroke-width="0.9"/><rect x="62.5" y="387.2" width="2.6" height="1.2" fill="#2a9a3c" stroke="#c8f0cc" stroke-width="0.8"/><line x1="67.9" y1="384.6" x2="67.9" y2="388.1" stroke="#c4c4c4" stroke-width="0.9"/><rect x="66.9" y="385.6" width="2.0" height="2.5" fill="#d4d4d4" stroke="#ececec" stroke-width="0.8" opacity="0.6"/><line x1="71.9" y1="384.1" x2="71.9" y2="387.6" stroke="#c4c4c4" stroke-width="0.9"/><rect x="70.9" y="385.1" width="2.0" height="2.5" fill="#d4d4d4" stroke="#ececec" stroke-width="0.8" opacity="0.6"/><line x1="76.0" y1="384.4" x2="76.0" y2="386.9" stroke="#c4c4c4" stroke-width="0.9"/><rect x="75.0" y="384.9" width="2.0" height="2.0" fill="#b8dcbc" stroke="#e4f6e6" stroke-width="0.8" opacity="0.6"/><line x1="84.2" y1="380.2" x2="84.2" y2="382.7" stroke="#c4c4c4" stroke-width="0.9"/><rect x="82.9" y="381.2" width="2.6" height="1.5" fill="#2a9a3c" stroke="#c8f0cc" stroke-width="0.8"/><line x1="88.3" y1="376.8" x2="88.3" y2="380.8" stroke="#c4c4c4" stroke-width="0.9"/><rect x="87.3" y="378.3" width="2.0" height="2.5" fill="#b8dcbc" stroke="#e4f6e6" stroke-width="0.8" opacity="0.6"/><line x1="92.4" y1="376.8" x2="92.4" y2="378.8" stroke="#c4c4c4" stroke-width="0.9"/><rect x="91.1" y="376.8" width="2.6" height="2.0" fill="#2a9a3c" stroke="#c8f0cc" stroke-width="0.8"/><line x1="96.5" y1="373.3" x2="96.5" y2="376.8" stroke="#c4c4c4" stroke-width="0.9"/><rect x="95.5" y="374.3" width="2.0" height="2.5" fill="#b8dcbc" stroke="#e4f6e6" stroke-width="0.8" opacity="0.6"/><line x1="100.6" y1="371.9" x2="100.6" y2="374.9" stroke="#c4c4c4" stroke-width="0.9"/><rect x="99.6" y="373.4" width="2.0" height="1.5" fill="#d4d4d4" stroke="#ececec" stroke-width="0.8" opacity="0.6"/><line x1="104.7" y1="372.5" x2="104.7" y2="374.5" stroke="#c4c4c4" stroke-width="0.9"/><rect x="103.4" y="373.5" width="2.6" height="1.2" fill="#2a9a3c" stroke="#c8f0cc" stroke-width="0.8"/><line x1="108.8" y1="370.6" x2="108.8" y2="374.1" stroke="#c4c4c4" stroke-width="0.9"/><rect x="107.8" y="372.1" width="2.0" height="2.0" fill="#b8dcbc" stroke="#e4f6e6" stroke-width="0.8" opacity="0.6"/><line x1="112.8" y1="371.3" x2="112.8" y2="373.8" stroke="#c4c4c4" stroke-width="0.9"/><rect x="111.5" y="371.3" width="2.6" height="2.5" fill="#2a9a3c" stroke="#c8f0cc" stroke-width="0.8"/><line x1="116.9" y1="371.5" x2="116.9" y2="373.5" stroke="#c4c4c4" stroke-width="0.9"/><rect x="115.9" y="371.5" width="2.0" height="2.0" fill="#d4d4d4" stroke="#ececec" stroke-width="0.8" opacity="0.6"/><line x1="121.0" y1="370.8" x2="121.0" y2="373.3" stroke="#c4c4c4" stroke-width="0.9"/><rect x="120.0" y="372.3" width="2.0" height="1.2" fill="#b8dcbc" stroke="#e4f6e6" stroke-width="0.8" opacity="0.6"/><line x1="125.1" y1="370.0" x2="125.1" y2="373.0" stroke="#c4c4c4" stroke-width="0.9"/><rect x="124.1" y="371.0" width="2.0" height="2.0" fill="#d4d4d4" stroke="#ececec" stroke-width="0.8" opacity="0.6"/><line x1="129.2" y1="371.8" x2="129.2" y2="373.8" stroke="#c4c4c4" stroke-width="0.9"/><rect x="128.2" y="372.8" width="2.0" height="1.2" fill="#d4d4d4" stroke="#ececec" stroke-width="0.8" opacity="0.6"/><line x1="133.3" y1="371.7" x2="133.3" y2="374.7" stroke="#c4c4c4" stroke-width="0.9"/><rect x="132.0" y="373.2" width="2.6" height="1.5" fill="#d8204e" stroke="#ffb4c4" stroke-width="0.8"/><line x1="137.4" y1="373.1" x2="137.4" y2="375.1" stroke="#c4c4c4" stroke-width="0.9"/><rect x="136.4" y="374.1" width="2.0" height="1.2" fill="#ecbccb" stroke="#fbe2ea" stroke-width="0.8" opacity="0.6"/><line x1="141.5" y1="372.3" x2="141.5" y2="375.3" stroke="#c4c4c4" stroke-width="0.9"/><rect x="140.5" y="373.8" width="2.0" height="1.5" fill="#ecbccb" stroke="#fbe2ea" stroke-width="0.8" opacity="0.6"/><line x1="145.6" y1="373.0" x2="145.6" y2="375.5" stroke="#c4c4c4" stroke-width="0.9"/><rect x="144.6" y="373.0" width="2.0" height="2.5" fill="#d4d4d4" stroke="#ececec" stroke-width="0.8" opacity="0.6"/><line x1="149.7" y1="372.3" x2="149.7" y2="375.3" stroke="#c4c4c4" stroke-width="0.9"/><rect x="148.7" y="373.8" width="2.0" height="1.5" fill="#d4d4d4" stroke="#ececec" stroke-width="0.8" opacity="0.6"/><line x1="153.7" y1="371.7" x2="153.7" y2="375.2" stroke="#c4c4c4" stroke-width="0.9"/><rect x="152.7" y="373.2" width="2.0" height="2.0" fill="#b8dcbc" stroke="#e4f6e6" stroke-width="0.8" opacity="0.6"/><line x1="157.8" y1="372.1" x2="157.8" y2="375.1" stroke="#c4c4c4" stroke-width="0.9"/><rect x="156.8" y="373.1" width="2.0" height="2.0" fill="#d4d4d4" stroke="#ececec" stroke-width="0.8" opacity="0.6"/><line x1="161.9" y1="371.8" x2="161.9" y2="374.8" stroke="#c4c4c4" stroke-width="0.9"/><rect x="160.9" y="372.3" width="2.0" height="2.5" fill="#b8dcbc" stroke="#e4f6e6" stroke-width="0.8" opacity="0.6"/><line x1="166.0" y1="372.9" x2="166.0" y2="374.4" stroke="#c4c4c4" stroke-width="0.9"/><rect x="165.0" y="373.4" width="2.0" height="1.2" fill="#b8dcbc" stroke="#e4f6e6" stroke-width="0.8" opacity="0.6"/><line x1="170.1" y1="372.5" x2="170.1" y2="374.0" stroke="#c4c4c4" stroke-width="0.9"/><rect x="169.1" y="372.5" width="2.0" height="1.5" fill="#b8dcbc" stroke="#e4f6e6" stroke-width="0.8" opacity="0.6"/><line x1="174.2" y1="370.3" x2="174.2" y2="373.8" stroke="#c4c4c4" stroke-width="0.9"/><rect x="173.2" y="371.3" width="2.0" height="2.5" fill="#b8dcbc" stroke="#e4f6e6" stroke-width="0.8" opacity="0.6"/><line x1="178.3" y1="371.1" x2="178.3" y2="373.6" stroke="#c4c4c4" stroke-width="0.9"/><rect x="177.0" y="371.6" width="2.6" height="2.0" fill="#2a9a3c" stroke="#c8f0cc" stroke-width="0.8"/><line x1="182.4" y1="369.9" x2="182.4" y2="373.4" stroke="#c4c4c4" stroke-width="0.9"/><rect x="181.4" y="370.9" width="2.0" height="2.5" fill="#b8dcbc" stroke="#e4f6e6" stroke-width="0.8" opacity="0.6"/><line x1="186.5" y1="370.2" x2="186.5" y2="373.2" stroke="#c4c4c4" stroke-width="0.9"/><rect x="185.2" y="371.7" width="2.6" height="1.5" fill="#2a9a3c" stroke="#c8f0cc" stroke-width="0.8"/><line x1="190.6" y1="368.3" x2="190.6" y2="372.3" stroke="#c4c4c4" stroke-width="0.9"/><rect x="189.6" y="369.8" width="2.0" height="2.5" fill="#d4d4d4" stroke="#ececec" stroke-width="0.8" opacity="0.6"/><line x1="206.9" y1="364.3" x2="206.9" y2="368.3" stroke="#c4c4c4" stroke-width="0.9"/><rect x="205.6" y="365.8" width="2.6" height="2.5" fill="#2a9a3c" stroke="#c8f0cc" stroke-width="0.8"/><line x1="211.0" y1="364.8" x2="211.0" y2="367.8" stroke="#c4c4c4" stroke-width="0.9"/><rect x="209.7" y="365.3" width="2.6" height="2.5" fill="#2a9a3c" stroke="#c8f0cc" stroke-width="0.8"/><line x1="215.1" y1="364.7" x2="215.1" y2="367.2" stroke="#c4c4c4" stroke-width="0.9"/><rect x="214.1" y="366.2" width="2.0" height="1.2" fill="#b8dcbc" stroke="#e4f6e6" stroke-width="0.8" opacity="0.6"/><line x1="231.5" y1="363.6" x2="231.5" y2="366.1" stroke="#c4c4c4" stroke-width="0.9"/><rect x="230.2" y="364.6" width="2.6" height="1.5" fill="#d8204e" stroke="#ffb4c4" stroke-width="0.8"/><line x1="235.5" y1="365.6" x2="235.5" y2="366.6" stroke="#c4c4c4" stroke-width="0.9"/><rect x="234.2" y="365.6" width="2.6" height="1.2" fill="#d8204e" stroke="#ffb4c4" stroke-width="0.8"/><line x1="239.6" y1="364.5" x2="239.6" y2="367.0" stroke="#c4c4c4" stroke-width="0.9"/><rect x="238.3" y="365.5" width="2.6" height="1.5" fill="#d8204e" stroke="#ffb4c4" stroke-width="0.8"/><line x1="243.7" y1="367.7" x2="243.7" y2="369.2" stroke="#c4c4c4" stroke-width="0.9"/><rect x="242.4" y="368.2" width="2.6" height="1.2" fill="#d8204e" stroke="#ffb4c4" stroke-width="0.8"/><line x1="247.8" y1="367.1" x2="247.8" y2="370.6" stroke="#c4c4c4" stroke-width="0.9"/><rect x="246.8" y="368.1" width="2.0" height="2.5" fill="#ecbccb" stroke="#fbe2ea" stroke-width="0.8" opacity="0.6"/><line x1="251.9" y1="368.1" x2="251.9" y2="371.6" stroke="#c4c4c4" stroke-width="0.9"/><rect x="250.9" y="369.6" width="2.0" height="2.0" fill="#ecbccb" stroke="#fbe2ea" stroke-width="0.8" opacity="0.6"/><line x1="256.0" y1="370.0" x2="256.0" y2="372.5" stroke="#c4c4c4" stroke-width="0.9"/><rect x="254.7" y="371.5" width="2.6" height="1.2" fill="#d8204e" stroke="#ffb4c4" stroke-width="0.8"/><line x1="260.1" y1="367.8" x2="260.1" y2="371.8" stroke="#c4c4c4" stroke-width="0.9"/><rect x="259.1" y="369.3" width="2.0" height="2.5" fill="#d4d4d4" stroke="#ececec" stroke-width="0.8" opacity="0.6"/><line x1="264.2" y1="368.5" x2="264.2" y2="371.0" stroke="#c4c4c4" stroke-width="0.9"/><rect x="262.9" y="369.0" width="2.6" height="2.0" fill="#2a9a3c" stroke="#c8f0cc" stroke-width="0.8"/><line x1="268.3" y1="368.3" x2="268.3" y2="370.3" stroke="#c4c4c4" stroke-width="0.9"/><rect x="267.3" y="369.3" width="2.0" height="1.2" fill="#b8dcbc" stroke="#e4f6e6" stroke-width="0.8" opacity="0.6"/><line x1="272.4" y1="367.4" x2="272.4" y2="369.9" stroke="#c4c4c4" stroke-width="0.9"/><rect x="271.4" y="367.4" width="2.0" height="2.5" fill="#b8dcbc" stroke="#e4f6e6" stroke-width="0.8" opacity="0.6"/><line x1="276.4" y1="367.7" x2="276.4" y2="369.7" stroke="#c4c4c4" stroke-width="0.9"/><rect x="275.4" y="368.2" width="2.0" height="1.5" fill="#b8dcbc" stroke="#e4f6e6" stroke-width="0.8" opacity="0.6"/><line x1="280.5" y1="368.5" x2="280.5" y2="369.5" stroke="#c4c4c4" stroke-width="0.9"/><rect x="279.5" y="368.5" width="2.0" height="1.2" fill="#b8dcbc" stroke="#e4f6e6" stroke-width="0.8" opacity="0.6"/><line x1="284.6" y1="366.8" x2="284.6" y2="369.3" stroke="#c4c4c4" stroke-width="0.9"/><rect x="283.6" y="367.3" width="2.0" height="2.0" fill="#b8dcbc" stroke="#e4f6e6" stroke-width="0.8" opacity="0.6"/><line x1="288.7" y1="366.1" x2="288.7" y2="369.1" stroke="#c4c4c4" stroke-width="0.9"/><rect x="287.7" y="367.1" width="2.0" height="2.0" fill="#b8dcbc" stroke="#e4f6e6" stroke-width="0.8" opacity="0.6"/><line x1="292.8" y1="366.9" x2="292.8" y2="368.9" stroke="#c4c4c4" stroke-width="0.9"/><rect x="291.8" y="367.4" width="2.0" height="1.5" fill="#b8dcbc" stroke="#e4f6e6" stroke-width="0.8" opacity="0.6"/><line x1="296.9" y1="365.7" x2="296.9" y2="368.7" stroke="#c4c4c4" stroke-width="0.9"/><rect x="295.9" y="366.2" width="2.0" height="2.5" fill="#b8dcbc" stroke="#e4f6e6" stroke-width="0.8" opacity="0.6"/><line x1="301.0" y1="365.9" x2="301.0" y2="368.4" stroke="#c4c4c4" stroke-width="0.9"/><rect x="300.0" y="365.9" width="2.0" height="2.5" fill="#b8dcbc" stroke="#e4f6e6" stroke-width="0.8" opacity="0.6"/><line x1="305.1" y1="365.5" x2="305.1" y2="368.0" stroke="#c4c4c4" stroke-width="0.9"/><rect x="304.1" y="367.0" width="2.0" height="1.2" fill="#b8dcbc" stroke="#e4f6e6" stroke-width="0.8" opacity="0.6"/><line x1="309.2" y1="364.6" x2="309.2" y2="367.6" stroke="#c4c4c4" stroke-width="0.9"/><rect x="308.2" y="365.6" width="2.0" height="2.0" fill="#b8dcbc" stroke="#e4f6e6" stroke-width="0.8" opacity="0.6"/><line x1="313.3" y1="363.7" x2="313.3" y2="367.2" stroke="#c4c4c4" stroke-width="0.9"/><rect x="312.3" y="364.7" width="2.0" height="2.5" fill="#b8dcbc" stroke="#e4f6e6" stroke-width="0.8" opacity="0.6"/><line x1="317.3" y1="365.8" x2="317.3" y2="366.8" stroke="#c4c4c4" stroke-width="0.9"/><rect x="316.3" y="365.8" width="2.0" height="1.2" fill="#b8dcbc" stroke="#e4f6e6" stroke-width="0.8" opacity="0.6"/><line x1="321.4" y1="364.2" x2="321.4" y2="366.2" stroke="#c4c4c4" stroke-width="0.9"/><rect x="320.4" y="364.7" width="2.0" height="1.5" fill="#d4d4d4" stroke="#ececec" stroke-width="0.8" opacity="0.6"/><line x1="325.5" y1="362.0" x2="325.5" y2="365.5" stroke="#c4c4c4" stroke-width="0.9"/><rect x="324.5" y="363.5" width="2.0" height="2.0" fill="#b8dcbc" stroke="#e4f6e6" stroke-width="0.8" opacity="0.6"/><line x1="329.6" y1="362.8" x2="329.6" y2="364.8" stroke="#c4c4c4" stroke-width="0.9"/><rect x="328.6" y="363.8" width="2.0" height="1.2" fill="#d4d4d4" stroke="#ececec" stroke-width="0.8" opacity="0.6"/><line x1="333.7" y1="360.7" x2="333.7" y2="363.2" stroke="#c4c4c4" stroke-width="0.9"/><rect x="332.4" y="362.2" width="2.6" height="1.2" fill="#2a9a3c" stroke="#c8f0cc" stroke-width="0.8"/><line x1="350.1" y1="353.8" x2="350.1" y2="355.8" stroke="#c4c4c4" stroke-width="0.9"/><rect x="349.1" y="354.3" width="2.0" height="1.5" fill="#d4d4d4" stroke="#ececec" stroke-width="0.8" opacity="0.6"/><line x1="354.2" y1="353.0" x2="354.2" y2="355.5" stroke="#c4c4c4" stroke-width="0.9"/><rect x="353.2" y="353.0" width="2.0" height="2.5" fill="#b8dcbc" stroke="#e4f6e6" stroke-width="0.8" opacity="0.6"/><line x1="358.2" y1="351.2" x2="358.2" y2="355.2" stroke="#c4c4c4" stroke-width="0.9"/><rect x="357.2" y="352.7" width="2.0" height="2.5" fill="#d4d4d4" stroke="#ececec" stroke-width="0.8" opacity="0.6"/><line x1="362.3" y1="353.3" x2="362.3" y2="354.8" stroke="#c4c4c4" stroke-width="0.9"/><rect x="361.3" y="353.8" width="2.0" height="1.2" fill="#b8dcbc" stroke="#e4f6e6" stroke-width="0.8" opacity="0.6"/><line x1="366.4" y1="352.0" x2="366.4" y2="354.0" stroke="#c4c4c4" stroke-width="0.9"/><rect x="365.1" y="352.5" width="2.6" height="1.5" fill="#2a9a3c" stroke="#c8f0cc" stroke-width="0.8"/><line x1="370.5" y1="349.1" x2="370.5" y2="353.1" stroke="#c4c4c4" stroke-width="0.9"/><rect x="369.5" y="350.6" width="2.0" height="2.5" fill="#b8dcbc" stroke="#e4f6e6" stroke-width="0.8" opacity="0.6"/><line x1="386.9" y1="348.3" x2="386.9" y2="350.8" stroke="#c4c4c4" stroke-width="0.9"/><rect x="385.9" y="348.8" width="2.0" height="2.0" fill="#b8dcbc" stroke="#e4f6e6" stroke-width="0.8" opacity="0.6"/><line x1="391.0" y1="351.1" x2="391.0" y2="352.1" stroke="#c4c4c4" stroke-width="0.9"/><rect x="389.7" y="351.1" width="2.6" height="1.2" fill="#d8204e" stroke="#ffb4c4" stroke-width="0.8"/><line x1="395.1" y1="346.7" x2="395.1" y2="348.7" stroke="#c4c4c4" stroke-width="0.9"/><rect x="394.1" y="347.2" width="2.0" height="1.5" fill="#d4d4d4" stroke="#ececec" stroke-width="0.8" opacity="0.6"/><line x1="501.4" y1="330.7" x2="501.4" y2="333.2" stroke="#c4c4c4" stroke-width="0.9"/><rect x="500.1" y="331.7" width="2.6" height="1.5" fill="#d8204e" stroke="#ffb4c4" stroke-width="0.8"/><line x1="505.5" y1="329.0" x2="505.5" y2="331.0" stroke="#c4c4c4" stroke-width="0.9"/><rect x="504.5" y="329.5" width="2.0" height="1.5" fill="#b8dcbc" stroke="#e4f6e6" stroke-width="0.8" opacity="0.6"/><line x1="509.6" y1="327.0" x2="509.6" y2="330.5" stroke="#c4c4c4" stroke-width="0.9"/><rect x="508.6" y="328.5" width="2.0" height="2.0" fill="#b8dcbc" stroke="#e4f6e6" stroke-width="0.8" opacity="0.6"/><line x1="513.7" y1="327.6" x2="513.7" y2="330.1" stroke="#c4c4c4" stroke-width="0.9"/><rect x="512.4" y="328.6" width="2.6" height="1.5" fill="#2a9a3c" stroke="#c8f0cc" stroke-width="0.8"/><line x1="517.8" y1="326.7" x2="517.8" y2="329.7" stroke="#c4c4c4" stroke-width="0.9"/><rect x="516.8" y="327.2" width="2.0" height="2.5" fill="#d4d4d4" stroke="#ececec" stroke-width="0.8" opacity="0.6"/><line x1="521.8" y1="326.3" x2="521.8" y2="329.3" stroke="#c4c4c4" stroke-width="0.9"/><rect x="520.5" y="327.8" width="2.6" height="1.5" fill="#2a9a3c" stroke="#c8f0cc" stroke-width="0.8"/><line x1="525.9" y1="326.9" x2="525.9" y2="328.9" stroke="#c4c4c4" stroke-width="0.9"/><rect x="524.6" y="327.4" width="2.6" height="1.5" fill="#2a9a3c" stroke="#c8f0cc" stroke-width="0.8"/><line x1="530.0" y1="325.5" x2="530.0" y2="328.5" stroke="#c4c4c4" stroke-width="0.9"/><rect x="529.0" y="327.0" width="2.0" height="1.5" fill="#b8dcbc" stroke="#e4f6e6" stroke-width="0.8" opacity="0.6"/><line x1="534.1" y1="326.1" x2="534.1" y2="328.1" stroke="#c4c4c4" stroke-width="0.9"/><rect x="532.8" y="327.1" width="2.6" height="1.2" fill="#2a9a3c" stroke="#c8f0cc" stroke-width="0.8"/><rect x="12" y="428" width="1043" height="167" fill="#838383"/><rect x="12.5" y="428.5" width="1042" height="166" fill="none" stroke="#939393" stroke-width="1"/><line x1="12" y1="428.5" x2="1055" y2="428.5" stroke="#9c9c9c" stroke-width="1"/><rect x="148" y="527" width="4.0" height="67.5" fill="#1f961f"/><rect x="152" y="581.8" width="4.8" height="12.7" fill="#ff1010"/><rect x="66" y="593" width="4.0" height="1.5" fill="#ff1010"/><rect x="70" y="593" width="3.0" height="1.5" fill="#1f961f"/><rect x="192" y="593" width="5.0" height="1.5" fill="#1f961f"/><rect x="241" y="593" width="4.0" height="1.5" fill="#ff1010"/><rect x="325.9" y="534.2" width="5.4" height="60.3" fill="#ff1010"/><rect x="331.3" y="586" width="3.9" height="8.5" fill="#1f961f"/><rect x="339" y="593" width="4.0" height="1.5" fill="#1f961f"/><rect x="351" y="593" width="4.0" height="1.5" fill="#1f961f"/><rect x="379" y="593" width="4.0" height="1.5" fill="#ff1010"/><rect x="391" y="593" width="5.0" height="1.5" fill="#1f961f"/><rect x="412" y="593" width="9.0" height="1.5" fill="#1f961f"/><rect x="440" y="593" width="4.0" height="1.5" fill="#ff1010"/><rect x="448" y="591.5" width="4.0" height="3.0" fill="#ff1010"/><rect x="476" y="593" width="5.0" height="1.5" fill="#1f961f"/><rect x="582" y="517.2" width="4.0" height="77.3" fill="#1f961f"/><rect x="586" y="572" width="4.0" height="22.5" fill="#1f961f"/><rect x="590" y="590" width="4.0" height="4.5" fill="#1f961f"/><rect x="594" y="593" width="4.0" height="1.5" fill="#1f961f"/><rect x="671" y="592" width="4.0" height="2.5" fill="#ff1010"/><rect x="683" y="593" width="4.0" height="1.5" fill="#ff1010"/><rect x="688" y="593" width="6.0" height="1.5" fill="#1f961f"/><rect x="695" y="590.7" width="4.0" height="3.8" fill="#ff1010"/><rect x="699" y="592" width="5.0" height="2.5" fill="#ff1010"/><rect x="708" y="593" width="4.0" height="1.5" fill="#1f961f"/><rect x="724" y="593" width="3.0" height="1.5" fill="#ff1010"/><rect x="728" y="540.7" width="4.0" height="53.8" fill="#1f961f"/><rect x="732" y="442.6" width="4.0" height="151.9" fill="#1f961f"/><rect x="752" y="509" width="4.0" height="85.5" fill="#1f961f"/><rect x="764" y="592" width="9.0" height="2.5" fill="#ff1010"/><rect x="776" y="522" width="5.0" height="72.5" fill="#ff1010"/><rect x="784" y="593" width="6.0" height="1.5" fill="#1f961f"/><rect x="800.7" y="574" width="4.3" height="20.5" fill="#1f961f"/><rect x="825" y="586.2" width="4.0" height="8.3" fill="#ff1010"/><rect x="829" y="556.9" width="4.0" height="37.6" fill="#ff1010"/><rect x="849" y="576" width="4.8" height="18.5" fill="#1f961f"/><rect x="860.9" y="538.2" width="5.1" height="56.3" fill="#ff1010"/><rect x="866" y="584" width="4.0" height="10.5" fill="#ff1010"/><rect x="874" y="566" width="4.0" height="28.5" fill="#ff1010"/><rect x="878" y="590" width="8.0" height="4.5" fill="#ff1010"/><rect x="890" y="592" width="4.0" height="2.5" fill="#ff1010"/><rect x="898" y="570.8" width="4.0" height="23.7" fill="#ff1010"/><rect x="910" y="590" width="4.0" height="4.5" fill="#ff1010"/><rect x="919" y="592" width="3.0" height="2.5" fill="#ff1010"/><rect x="922" y="583" width="5.0" height="11.5" fill="#ff1010"/><rect x="946.8" y="574.8" width="4.2" height="19.7" fill="#ff1010"/><rect x="970.8" y="583.7" width="4.2" height="10.8" fill="#ff1010"/><rect x="991" y="588" width="4.0" height="6.5" fill="#1f961f"/><rect x="1015" y="581" width="5.0" height="13.5" fill="#ff1010"/><rect x="1027.7" y="531.8" width="4.3" height="62.7" fill="#ff1010"/><line x1="12.9" y1="34" x2="1054" y2="34" stroke="#4c9e69" stroke-width="2.2" stroke-dasharray="7.9,3.13"/><line x1="12" y1="391.8" x2="1054.5" y2="391.8" stroke="#bd4848" stroke-width="2.2" stroke-dasharray="7.9,3.16" stroke-dashoffset="1.64"/><path d="M12.0,388.3 C18.3,388.4 38.7,388.9 50.0,388.6 C61.3,388.4 71.7,387.7 80.0,386.8 C88.3,385.9 93.3,384.2 100.0,383.1 C106.7,382.0 113.3,380.9 120.0,380.2 C126.7,379.5 133.3,379.1 140.0,378.7 C146.7,378.3 151.7,378.3 160.0,377.9 C168.3,377.5 178.3,377.4 190.0,376.3 C201.7,375.2 216.7,372.8 230.0,371.6 C243.3,370.4 256.7,369.8 270.0,369.3 C283.3,368.8 298.3,369.1 310.0,368.5 C321.7,367.9 328.3,366.8 340.0,365.4 C351.7,364.0 366.7,362.4 380.0,360.2 C393.3,358.0 406.7,355.4 420.0,352.4 C433.3,349.3 450.0,344.8 460.0,341.9 C470.0,339.0 473.3,336.5 480.0,334.9 C486.7,333.3 491.7,333.4 500.0,332.3 C508.3,331.2 520.0,329.9 530.0,328.6 C540.0,327.3 551.7,325.6 560.0,324.5 C568.3,323.4 573.3,323.5 580.0,322.0 C586.7,320.5 593.3,318.2 600.0,315.5 C606.7,312.8 613.3,308.9 620.0,305.7 C626.7,302.5 633.3,299.7 640.0,296.4 C646.7,293.1 653.3,289.9 660.0,285.7 C666.7,281.5 673.3,275.7 680.0,271.0 C686.7,266.3 693.0,263.5 700.0,257.6 C707.0,251.7 714.6,242.9 721.7,235.4 C728.8,227.9 737.8,218.2 742.5,212.5 C747.2,206.8 747.2,205.2 750.0,201.0 C752.8,196.8 756.0,192.5 759.2,187.5 C762.4,182.5 766.7,173.6 769.3,171.0 C771.9,168.4 772.4,171.2 775.0,172.0 C777.6,172.8 780.8,174.2 785.0,175.7 C789.2,177.2 795.8,179.7 800.0,181.0 C804.2,182.3 806.7,182.7 810.0,183.4 C813.3,184.1 816.7,184.2 820.0,185.0 C823.3,185.8 826.7,186.8 830.0,187.9 C833.3,189.0 836.7,190.8 840.0,191.6 C843.3,192.4 847.0,193.1 850.0,193.0 C853.0,192.9 854.7,192.3 858.0,190.9 C861.3,189.5 866.3,186.0 870.0,184.5 C873.7,183.0 876.7,182.1 880.0,181.7 C883.3,181.3 886.7,182.0 890.0,182.1 C893.3,182.2 896.7,182.4 900.0,182.4 C903.3,182.4 906.7,182.1 910.0,182.1 C913.3,182.1 916.7,182.1 920.0,182.4 C923.3,182.7 926.7,182.9 930.0,183.9 C933.3,184.9 936.7,186.3 940.0,188.2 C943.3,190.1 946.7,193.3 950.0,195.4 C953.3,197.5 956.7,198.8 960.0,200.7 C963.3,202.6 966.7,205.0 970.0,206.7 C973.3,208.4 976.7,209.8 980.0,210.7 C983.3,211.6 986.7,211.6 990.0,212.0 C993.3,212.4 996.7,212.5 1000.0,213.0 C1003.3,213.5 1006.7,214.5 1010.0,214.8 C1013.3,215.1 1016.8,215.1 1020.0,215.0 C1023.2,214.9 1027.5,214.3 1029.0,214.2" fill="none" stroke="#d9216a" stroke-width="2.7" stroke-linejoin="round"/><path d="M12.0,387.5 C21.7,387.5 58.7,388.0 70.0,387.5 C81.3,387.0 76.7,385.9 80.0,384.6 C83.3,383.4 86.7,381.2 90.0,380.0 C93.3,378.8 96.7,378.0 100.0,377.2 C103.3,376.4 106.7,375.7 110.0,375.2 C113.3,374.7 116.7,374.6 120.0,374.2 C123.3,373.8 126.7,372.8 130.0,372.7 C133.3,372.6 136.7,373.2 140.0,373.3 C143.3,373.4 146.7,373.0 150.0,373.0 C153.3,373.0 153.3,373.5 160.0,373.2 C166.7,372.9 181.7,372.2 190.0,371.1 C198.3,370.0 203.3,368.0 210.0,366.7 C216.7,365.4 223.3,363.5 230.0,363.2 C236.7,362.9 245.0,364.2 250.0,365.0 C255.0,365.8 253.3,367.8 260.0,368.1 C266.7,368.4 280.0,367.4 290.0,367.0 C300.0,366.6 313.2,366.4 320.0,366.0 C326.8,365.6 328.0,365.6 331.0,364.6 C334.0,363.7 335.5,361.6 338.0,360.3 C340.5,359.0 341.0,357.7 346.0,356.6 C351.0,355.5 361.3,354.6 368.0,353.6 C374.7,352.6 382.0,350.9 386.0,350.5 C390.0,350.1 390.0,351.8 392.0,351.1 C394.0,350.4 395.0,347.6 398.0,346.3 C401.0,345.0 406.3,345.0 410.0,343.5 C413.7,342.0 415.0,339.4 420.0,337.5 C425.0,335.6 433.3,334.0 440.0,332.3 C446.7,330.6 454.2,329.3 460.0,327.1 C465.8,324.9 470.8,320.5 475.0,319.2 C479.2,317.9 480.8,318.1 485.0,319.2 C489.2,320.2 494.2,324.2 500.0,325.5 C505.8,326.8 514.2,326.9 520.0,327.1 C525.8,327.3 530.0,328.2 535.0,326.7 C540.0,325.2 545.8,319.8 550.0,318.0 C554.2,316.2 555.0,316.2 560.0,316.0 C565.0,315.8 575.0,318.5 580.0,317.0 C585.0,315.5 586.7,310.1 590.0,307.0 C593.3,303.9 596.5,301.1 600.0,298.7 C603.5,296.3 607.3,294.1 610.8,292.4 C614.3,290.7 618.2,290.4 621.2,288.3 C624.2,286.2 625.9,282.3 628.5,280.0 C631.1,277.7 634.0,276.6 636.8,274.7 C639.6,272.8 642.6,270.4 645.2,268.5 C647.8,266.6 649.5,266.1 652.4,263.3 C655.3,260.5 660.2,255.2 662.8,251.9 C665.4,248.6 666.2,245.5 668.0,243.5 C669.8,241.5 671.8,241.5 673.3,240.0 C674.8,238.5 675.0,235.5 677.0,234.5 C679.0,233.5 682.8,235.6 685.0,234.0 C687.2,232.4 688.3,227.3 690.0,225.0 C691.7,222.7 693.4,221.1 695.3,220.0 C697.2,218.9 700.0,219.3 701.6,218.5 C703.2,217.7 703.0,217.7 704.7,215.3 C706.4,212.9 709.3,209.5 712.0,203.9 C714.7,198.3 718.0,187.9 721.0,182.0 C724.0,176.1 726.8,172.8 730.0,168.5 C733.2,164.2 737.3,159.6 740.0,156.5 C742.7,153.4 744.3,153.1 746.0,150.0 C747.7,146.9 748.5,142.1 750.0,137.8 C751.5,133.5 753.7,127.8 755.0,124.0 C756.3,120.2 756.8,117.4 758.0,115.0 C759.2,112.6 760.7,112.1 762.0,109.6 C763.3,107.1 764.7,103.1 766.0,100.2 C767.3,97.3 768.5,89.3 770.0,92.4 C771.5,95.5 773.3,111.4 775.0,119.0 C776.7,126.6 778.3,132.4 780.0,137.8 C781.7,143.2 783.3,147.1 785.0,151.2 C786.7,155.3 788.3,158.6 790.0,162.3 C791.7,166.0 793.3,170.6 795.0,173.5 C796.7,176.4 798.5,177.8 800.0,180.0 C801.5,182.2 802.3,184.8 804.0,186.4 C805.7,188.0 808.2,189.1 810.0,189.4 C811.8,189.7 813.3,187.1 815.0,188.0 C816.7,188.9 817.5,192.0 820.0,194.6 C822.5,197.2 827.3,201.0 830.0,203.5 C832.7,206.0 833.8,208.4 836.0,209.4 C838.2,210.4 841.0,210.4 843.0,209.4 C845.0,208.4 846.2,206.2 848.0,203.5 C849.8,200.8 852.0,196.2 854.0,193.0 C856.0,189.8 858.0,186.7 860.0,184.0 C862.0,181.3 864.0,179.5 866.0,177.0 C868.0,174.5 870.2,171.1 872.0,169.0 C873.8,166.9 875.2,164.6 877.0,164.6 C878.8,164.6 880.8,167.3 883.0,169.0 C885.2,170.7 887.5,173.3 890.0,175.0 C892.5,176.7 895.5,178.5 898.0,179.4 C900.5,180.3 903.0,180.6 905.0,180.2 C907.0,179.8 908.3,177.6 910.0,177.2 C911.7,176.8 913.3,177.4 915.0,178.0 C916.7,178.6 918.2,179.4 920.0,181.0 C921.8,182.6 924.0,185.6 926.0,187.6 C928.0,189.6 929.7,190.2 932.0,192.8 C934.3,195.4 937.3,199.1 940.0,203.0 C942.7,206.9 945.3,212.0 948.0,216.0 C950.7,220.0 953.3,224.9 956.0,227.2 C958.7,229.5 961.3,228.8 964.0,230.0 C966.7,231.2 969.3,233.2 972.0,234.4 C974.7,235.6 977.8,237.6 980.0,237.4 C982.2,237.2 983.3,234.9 985.0,233.5 C986.7,232.1 987.5,229.8 990.0,229.0 C992.5,228.2 997.5,228.9 1000.0,228.5 C1002.5,228.1 1003.0,227.4 1005.0,226.3 C1007.0,225.2 1009.5,223.0 1012.0,221.9 C1014.5,220.8 1017.7,220.8 1020.0,220.0 C1022.3,219.2 1024.5,218.3 1026.0,217.4 C1027.5,216.5 1028.5,215.2 1029.0,214.8" fill="none" stroke="#ec7a3e" stroke-width="2.7" stroke-linejoin="round"/><rect x="12.5" y="12.5" width="1042" height="416" fill="none" stroke="#9c9c9c" stroke-width="1"/><circle cx="15.6" cy="388.5" r="3.3" fill="#e8173c"/><circle cx="20.1" cy="388.5" r="3.3" fill="#10c050"/><circle cx="24.3" cy="388.5" r="3.3" fill="#e8173c"/><circle cx="28.1" cy="388.5" r="3.3" fill="#10c050"/><circle cx="32.7" cy="388.5" r="3.3" fill="#e8173c"/><circle cx="53.2" cy="388.3" r="3.3" fill="#10c050"/><circle cx="798" cy="183.4" r="3.3" fill="#e8173c"/><circle cx="859" cy="189.4" r="3.3" fill="#10c050"/><circle cx="924" cy="185.4" r="3.3" fill="#e8173c"/><circle cx="1029" cy="214.4" r="3.3" fill="#10c050"/><rect x="10" y="406.3" width="4" height="15.6" rx="1" fill="#e8173c"/><rect x="14" y="406.3" width="4" height="15.6" rx="1" fill="#0cc150"/><rect x="18" y="406.3" width="4" height="15.6" rx="1" fill="#e8173c"/><rect x="22" y="406.3" width="4" height="15.6" rx="1" fill="#0cc150"/><rect x="26.5" y="406.3" width="11.5" height="15.6" rx="1" fill="#e8173c"/><text x="32.25" y="418" font-size="11.3" font-weight="bold" fill="#fff" text-anchor="middle">S</text><rect x="45.8" y="406.3" width="14.0" height="15.6" rx="1" fill="#0cc150"/><text x="52.8" y="418" font-size="11.3" font-weight="bold" fill="#fff" text-anchor="middle">B</text><rect x="17.3" y="410" width="1" height="8" fill="#f4f4f4"/><rect x="25" y="410" width="1" height="8" fill="#f4f4f4"/><rect x="792" y="406.3" width="12" height="15.6" rx="1" fill="#e8173c"/><text x="798.0" y="418" font-size="11.3" font-weight="bold" fill="#fff" text-anchor="middle">S</text><rect x="852.4" y="406.3" width="13.0" height="15.6" rx="1" fill="#0cc150"/><text x="858.9" y="418" font-size="11.3" font-weight="bold" fill="#fff" text-anchor="middle">B</text><rect x="918" y="406.3" width="12" height="15.6" rx="1" fill="#e8173c"/><text x="924.0" y="418" font-size="11.3" font-weight="bold" fill="#fff" text-anchor="middle">S</text><rect x="1022.5" y="406.3" width="13.5" height="15.6" rx="1" fill="#0cc150"/><text x="1029.25" y="418" font-size="11.3" font-weight="bold" fill="#fff" text-anchor="middle">B</text><rect x="626.5" y="14" width="97" height="18" rx="2.5" fill="#0a0a0a" stroke="#2fbf62" stroke-width="2"/><text x="629.5" y="26.6" font-size="14" font-weight="bold" fill="#3ccf6e" textLength="91.5" lengthAdjust="spacingAndGlyphs">$121.30 52W</text><line x1="727" y1="28.5" x2="761" y2="33.5" stroke="#2fbf62" stroke-width="2"/><polygon points="768,34.5 759,29.5 758,37" fill="#2fbf62"/><rect x="915" y="50" width="10" height="10" fill="#f47a3a"/><text x="930.5" y="58" font-size="12" font-weight="bold" fill="#f47a3a" textLength="42.5" lengthAdjust="spacingAndGlyphs">EMA 8</text><rect x="915" y="66" width="10" height="10" fill="#e0226a"/><text x="930.5" y="74" font-size="12" font-weight="bold" fill="#e0226a" textLength="51.5" lengthAdjust="spacingAndGlyphs">EMA 34</text><text x="135.5" y="349" font-size="71" font-weight="bold" fill="#000" opacity="0.08" textLength="691" lengthAdjust="spacingAndGlyphs">forexsignale.trade</text><text x="343.5" y="481.5" font-size="63" font-weight="bold" fill="#000" opacity="0.07" textLength="277" lengthAdjust="spacingAndGlyphs">XAGUSD</text><text x="412" y="496" font-size="16" fill="#000" opacity="0.07" textLength="140" lengthAdjust="spacingAndGlyphs">Silber (XAG/USD)</text><line x1="1055" y1="40.5" x2="1060" y2="40.5" stroke="#fff" stroke-width="1"/><text x="1064.6" y="45.0" font-size="14" fill="#fff" letter-spacing="0.75">120</text><line x1="1055" y1="119.5" x2="1060" y2="119.5" stroke="#fff" stroke-width="1"/><text x="1064.6" y="124.8" font-size="14" fill="#fff" letter-spacing="0.75">100</text><line x1="1055" y1="199.5" x2="1060" y2="199.5" stroke="#fff" stroke-width="1"/><text x="1064.6" y="204.5" font-size="14" fill="#fff" letter-spacing="0.75">80.0</text><line x1="1055" y1="279.5" x2="1060" y2="279.5" stroke="#fff" stroke-width="1"/><text x="1064.6" y="284.2" font-size="14" fill="#fff" letter-spacing="0.75">60.0</text><line x1="1055" y1="359.5" x2="1060" y2="359.5" stroke="#fff" stroke-width="1"/><text x="1064.6" y="364.0" font-size="14" fill="#fff" letter-spacing="0.75">40.0</text><line x1="1055" y1="438.5" x2="1060" y2="438.5" stroke="#fff" stroke-width="1"/><text x="1064" y="444.0" font-size="14" fill="#fff" letter-spacing="0.95">100000</text><line x1="1055" y1="477.5" x2="1060" y2="477.5" stroke="#fff" stroke-width="1"/><text x="1064" y="483.1" font-size="14" fill="#fff" letter-spacing="0.95">75000</text><line x1="1055" y1="516.5" x2="1060" y2="516.5" stroke="#fff" stroke-width="1"/><text x="1064" y="522.2" font-size="14" fill="#fff" letter-spacing="0.95">50000</text><line x1="1055" y1="555.5" x2="1060" y2="555.5" stroke="#fff" stroke-width="1"/><text x="1064" y="561.2" font-size="14" fill="#fff" letter-spacing="0.95">25000</text><line x1="1055" y1="594.5" x2="1060" y2="594.5" stroke="#fff" stroke-width="1"/><text x="1064" y="600.3" font-size="14" fill="#fff" letter-spacing="0.95">0</text><text transform="translate(1111,222.5) rotate(-90)" font-size="14" fill="#dddddd" text-anchor="middle">Preis</text><text transform="translate(1132,542.5) rotate(-90)" font-size="14" fill="#dddddd" textLength="58.5" lengthAdjust="spacingAndGlyphs">Volumen</text><line x1="81.5" y1="595" x2="81.5" y2="600" stroke="#fff" stroke-width="1"/><line x1="162.5" y1="595" x2="162.5" y2="600" stroke="#fff" stroke-width="1"/><line x1="255.5" y1="595" x2="255.5" y2="600" stroke="#fff" stroke-width="1"/><line x1="340.5" y1="595" x2="340.5" y2="600" stroke="#fff" stroke-width="1"/><line x1="425.5" y1="595" x2="425.5" y2="600" stroke="#fff" stroke-width="1"/><line x1="519.5" y1="595" x2="519.5" y2="600" stroke="#fff" stroke-width="1"/><line x1="596.5" y1="595" x2="596.5" y2="600" stroke="#fff" stroke-width="1"/><line x1="685.5" y1="595" x2="685.5" y2="600" stroke="#fff" stroke-width="1"/><line x1="778.5" y1="595" x2="778.5" y2="600" stroke="#fff" stroke-width="1"/><line x1="875.5" y1="595" x2="875.5" y2="600" stroke="#fff" stroke-width="1"/><line x1="985.5" y1="595" x2="985.5" y2="600" stroke="#fff" stroke-width="1"/><text transform="translate(159.3,630.4) rotate(-45)" font-size="14" fill="#eeeeee" text-anchor="middle" dy="4.5" textLength="60" lengthAdjust="spacingAndGlyphs">Jul 2025</text><text transform="translate(338.5,632.4) rotate(-45)" font-size="14" fill="#eeeeee" text-anchor="middle" dy="4.5" textLength="68" lengthAdjust="spacingAndGlyphs">Sep 2025</text><text transform="translate(516.8,632.1) rotate(-45)" font-size="14" fill="#eeeeee" text-anchor="middle" dy="4.5" textLength="68.5" lengthAdjust="spacingAndGlyphs">Nov 2025</text><text transform="translate(683,631.5) rotate(-45)" font-size="14" fill="#eeeeee" text-anchor="middle" dy="4.5" textLength="65" lengthAdjust="spacingAndGlyphs">Jan 2026</text><text transform="translate(873.5,632.4) rotate(-45)" font-size="14" fill="#eeeeee" text-anchor="middle" dy="4.5" textLength="69" lengthAdjust="spacingAndGlyphs">Mar 2026</text></svg>
</div></body></html>
